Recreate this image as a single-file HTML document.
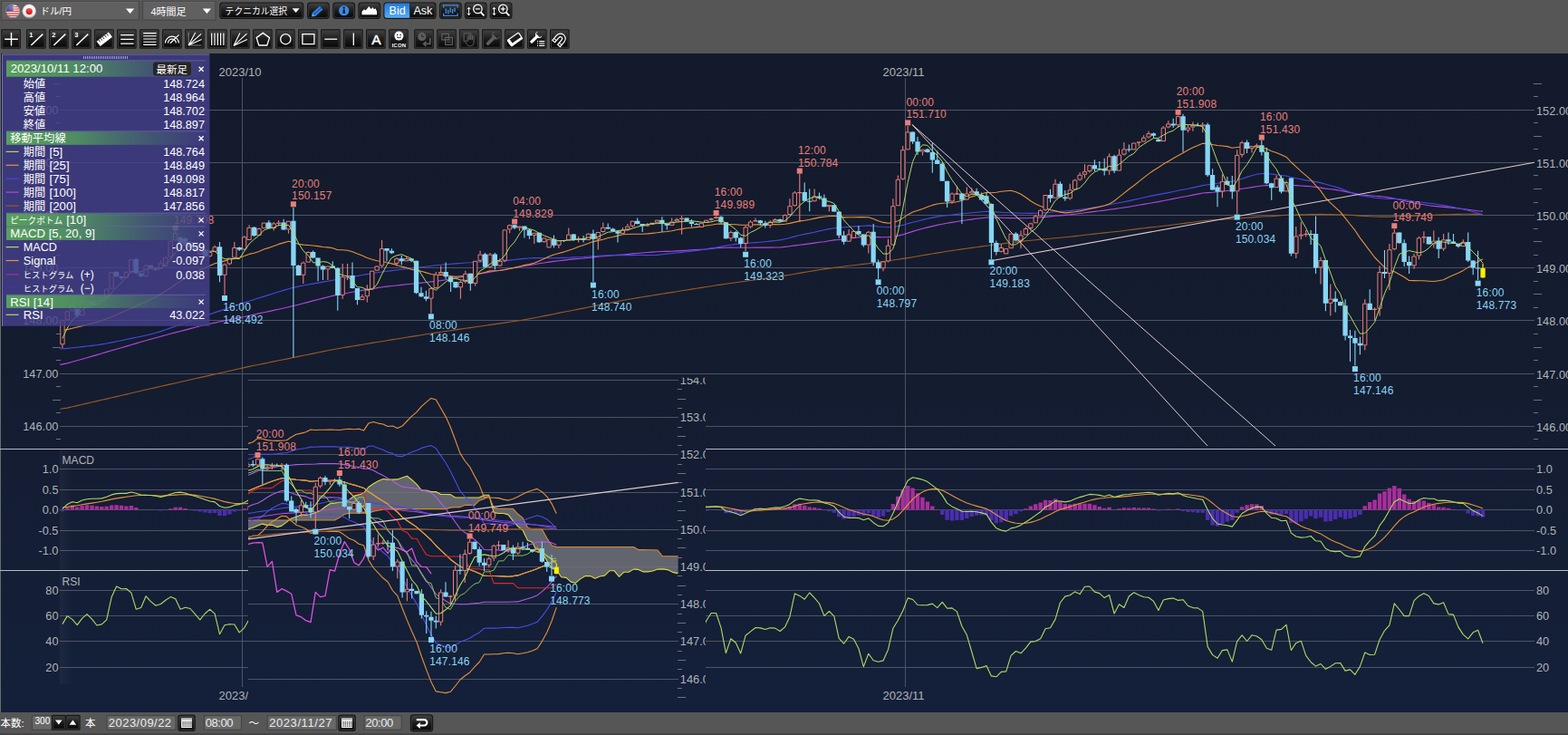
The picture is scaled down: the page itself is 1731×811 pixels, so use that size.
<!DOCTYPE html>
<html><head><meta charset="utf-8"><title>chart</title>
<style>html,body{margin:0;padding:0;background:#565656;overflow:hidden}body{width:1731px;height:811px;font-family:"Liberation Sans",sans-serif}svg{display:block;position:absolute;left:0;top:0}</style></head>
<body>
<svg width="1731" height="811" viewBox="0 0 1731 811" font-family="Liberation Sans, sans-serif" shape-rendering="auto">
<defs>
<linearGradient id="btn" x1="0" y1="0" x2="0" y2="1"><stop offset="0" stop-color="#414141"/><stop offset="0.5" stop-color="#1c1c1c"/><stop offset="1" stop-color="#080808"/></linearGradient>
<linearGradient id="bid" x1="0" y1="0" x2="0" y2="1"><stop offset="0" stop-color="#2378dd"/><stop offset="1" stop-color="#58acf5"/></linearGradient>
<linearGradient id="hdr" x1="0" y1="0" x2="1" y2="0"><stop offset="0" stop-color="#5aa65a" stop-opacity="0.95"/><stop offset="0.35" stop-color="#529a5e" stop-opacity="0.85"/><stop offset="0.8" stop-color="#4c8a66" stop-opacity="0.25"/><stop offset="1" stop-color="#4c8a66" stop-opacity="0"/></linearGradient>
<linearGradient id="strip" x1="0" y1="0" x2="1" y2="0"><stop offset="0" stop-color="#fff" stop-opacity="0.04"/><stop offset="1" stop-color="#fff" stop-opacity="0"/></linearGradient>
<radialGradient id="gloss" cx="0.5" cy="0.2" r="0.8"><stop offset="0" stop-color="#fff" stop-opacity="0.35"/><stop offset="0.6" stop-color="#fff" stop-opacity="0"/><stop offset="1" stop-color="#000" stop-opacity="0.25"/></radialGradient>
<linearGradient id="bgg" gradientUnits="userSpaceOnUse" x1="0" y1="59" x2="0" y2="786"><stop offset="0" stop-color="#131a2b"/><stop offset="0.5" stop-color="#141c30"/><stop offset="1" stop-color="#14203a"/></linearGradient>
<clipPath id="cpMain"><rect x="66" y="60" width="1628" height="434"/></clipPath>
<clipPath id="cpOv"><rect x="274" y="416.8" width="505" height="368"/></clipPath>
<clipPath id="cpOvP"><rect x="274" y="416.5" width="474.6" height="368"/></clipPath>
</defs>
<rect x="0" y="0" width="1731" height="59.3" fill="#565656"/>
<rect x="0" y="786" width="1731" height="25" fill="#565656"/>
<rect x="0" y="809" width="1731" height="2" fill="#444"/>
<rect x="0" y="59" width="1.2" height="727" fill="#6a6a6a"/>
<rect x="1.5" y="1.8" width="152" height="20.4" fill="#606060" stroke="#484848" stroke-width="1.2"/>
<path d="M2.5 2.6h150" stroke="#6e6e6e" stroke-width="0.8"/>
<rect x="157.5" y="1.8" width="80.5" height="20.4" fill="#606060" stroke="#484848" stroke-width="1.2"/>
<path d="M158.5 2.6h78.5" stroke="#6e6e6e" stroke-width="0.8"/>
<g><clipPath id="usf"><circle cx="14.3" cy="12.3" r="7.6"/></clipPath><g clip-path="url(#usf)">
<rect x="6" y="4" width="17" height="17" fill="#f4f4f4"/>
<rect x="6" y="4.6" width="17" height="1.25" fill="#d83a3a"/>
<rect x="6" y="7" width="17" height="1.25" fill="#d83a3a"/>
<rect x="6" y="9.4" width="17" height="1.25" fill="#d83a3a"/>
<rect x="6" y="11.8" width="17" height="1.25" fill="#d83a3a"/>
<rect x="6" y="14.2" width="17" height="1.25" fill="#d83a3a"/>
<rect x="6" y="16.6" width="17" height="1.25" fill="#d83a3a"/>
<rect x="6" y="19" width="17" height="1.25" fill="#d83a3a"/>
<rect x="6" y="4" width="8.6" height="8.4" fill="#3c4f9e"/></g>
<circle cx="14.3" cy="12.3" r="7.6" fill="url(#gloss)" stroke="#8a8a8a" stroke-width="0.6"/></g>
<circle cx="32.2" cy="12.3" r="7.6" fill="#f2f2f2" stroke="#8a8a8a" stroke-width="0.6"/><circle cx="32.2" cy="12.6" r="3.6" fill="#e01818"/><circle cx="32.2" cy="12.3" r="7.6" fill="url(#gloss)"/>
<text x="44.6" y="16.2" font-size="10.5" fill="#fff" text-anchor="start" font-family="'Liberation Sans', 'Noto Sans CJK JP', sans-serif">ドル/円</text>
<path d="M139 9.6h9.2l-4.6 5.4z" fill="#fff"/>
<text x="166.5" y="16.5" font-size="11" fill="#fff" text-anchor="start" font-family="'Liberation Sans', 'Noto Sans CJK JP', sans-serif">4時間足</text>
<path d="M223.8 9.6h9.2l-4.6 5.4z" fill="#fff"/>
<rect x="242.2" y="2.4" width="93.2" height="18.5" rx="3.5" fill="#151515"/>
<rect x="243.7" y="3.9" width="90.2" height="15.5" rx="2.2" fill="url(#btn)" stroke="#3b3b3b" stroke-width="0.9"/>
<text x="248.6" y="16.4" font-size="9.8" fill="#fff" text-anchor="start" font-family="'Liberation Sans', 'Noto Sans CJK JP', sans-serif">テクニカル選択</text>
<path d="M322.6 9.2h8l-4 4.8z" fill="#fff"/>
<rect x="339" y="2.4" width="24.8" height="18.5" rx="3.5" fill="#151515"/>
<rect x="340.5" y="3.9" width="21.8" height="15.5" rx="2.2" fill="url(#btn)" stroke="#3b3b3b" stroke-width="0.9"/>
<rect x="367.3" y="2.4" width="24.8" height="18.5" rx="3.5" fill="#151515"/>
<rect x="368.8" y="3.9" width="21.8" height="15.5" rx="2.2" fill="url(#btn)" stroke="#3b3b3b" stroke-width="0.9"/>
<rect x="395.4" y="2.4" width="24.8" height="18.5" rx="3.5" fill="#151515"/>
<rect x="396.9" y="3.9" width="21.8" height="15.5" rx="2.2" fill="url(#btn)" stroke="#3b3b3b" stroke-width="0.9"/>
<g transform="translate(351.4 11.6) rotate(-42)"><rect x="-6.5" y="-2.6" width="11" height="5.2" fill="#2f7fe0"/><path d="M-6.5 -2.6l-3.6 2.6 3.6 2.6z" fill="#5aa0f0"/><path d="M-6.5 0h11" stroke="#174f9e" stroke-width="1"/></g>
<circle cx="379.7" cy="11.7" r="5.6" fill="#3a8ae6"/><circle cx="379.7" cy="8.6" r="1.2" fill="#0a1a30"/><rect x="378.6" y="10.4" width="2.3" height="4.6" fill="#0a1a30"/>
<path d="M399.5 16.2v-3.4l2.6-2.6 1.6 1.4 3.6-4.6 2.4 3 1.8-2 1.4 2.2 1.6-1 1.6 3.4v3.6z" fill="#fff"/>
<rect x="423.4" y="2.4" width="58.2" height="18.5" rx="3.5" fill="#151515"/>
<rect x="424.9" y="3.9" width="55.2" height="15.5" rx="2.2" fill="url(#btn)" stroke="#3b3b3b" stroke-width="0.9"/>
<path d="M427 3.5h25.6v16.3h-25.6a2.5 2.5 0 0 1 -2.5-2.5v-11.3a2.5 2.5 0 0 1 2.5-2.5z" fill="url(#bid)"/>
<path d="M452.6 3.5v16.3" stroke="#1c1c1c" stroke-width="0.8"/>
<text x="429.6" y="16.4" font-size="12.6" fill="#fff" text-anchor="start" >Bid</text>
<text x="456.4" y="16.4" font-size="12.6" fill="#fff" text-anchor="start" >Ask</text>
<rect x="485" y="2.4" width="24.8" height="18.5" rx="3.5" fill="#151515"/>
<rect x="486.5" y="3.9" width="21.8" height="15.5" rx="2.2" fill="url(#btn)" stroke="#3b3b3b" stroke-width="0.9"/>
<rect x="512.8" y="2.4" width="24.8" height="18.5" rx="3.5" fill="#151515"/>
<rect x="514.3" y="3.9" width="21.8" height="15.5" rx="2.2" fill="url(#btn)" stroke="#3b3b3b" stroke-width="0.9"/>
<rect x="540.7" y="2.4" width="24.8" height="18.5" rx="3.5" fill="#151515"/>
<rect x="542.2" y="3.9" width="21.8" height="15.5" rx="2.2" fill="url(#btn)" stroke="#3b3b3b" stroke-width="0.9"/>
<path d="M489.6 8.5v-2.6h15.6v2.6M489.6 14.6v2.8h15.6v-2.8" stroke="#3a8ae6" stroke-width="1.3" fill="none"/>
<path d="M492.4 9.5v5.4M494.8 11v4.6M497.2 8.4v5.4M499.6 10v5M502 8.6v4.4" stroke="#3a8ae6" stroke-width="1.4"/>
<path d="M517.6 8.4v8m-1.7-6.2l1.7-2 1.7 2m-3.4 4.4l1.7 2 1.7-2" stroke="#fff" stroke-width="1" fill="none"/>
<circle cx="527.4" cy="9.9" r="4.7" fill="none" stroke="#fff" stroke-width="1.3"/>
<path d="M530.6 13.4l3.8 4" stroke="#fff" stroke-width="1.9"/>
<path d="M524.9 9.9h5" stroke="#fff" stroke-width="1.2"/>
<path d="M545.5 8.4v8m-1.7-6.2l1.7-2 1.7 2m-3.4 4.4l1.7 2 1.7-2" stroke="#fff" stroke-width="1" fill="none"/>
<circle cx="555.3" cy="9.9" r="4.7" fill="none" stroke="#fff" stroke-width="1.3"/>
<path d="M558.5 13.4l3.8 4" stroke="#fff" stroke-width="1.9"/>
<path d="M552.8 9.9h5" stroke="#fff" stroke-width="1.2"/>
<path d="M555.3 7.4v5" stroke="#fff" stroke-width="1.2"/>
<rect x="1.3" y="32.3" width="21.6" height="21.4" rx="1.3" fill="#151515"/>
<rect x="2.8" y="33.8" width="18.6" height="18.4" rx="0.0" fill="url(#btn)" stroke="#3b3b3b" stroke-width="0.9"/>
<rect x="29.1" y="32.3" width="21.6" height="21.4" rx="1.3" fill="#151515"/>
<rect x="30.6" y="33.8" width="18.6" height="18.4" rx="0.0" fill="url(#btn)" stroke="#3b3b3b" stroke-width="0.9"/>
<rect x="54.1" y="32.3" width="21.6" height="21.4" rx="1.3" fill="#151515"/>
<rect x="55.6" y="33.8" width="18.6" height="18.4" rx="0.0" fill="url(#btn)" stroke="#3b3b3b" stroke-width="0.9"/>
<rect x="79.1" y="32.3" width="21.6" height="21.4" rx="1.3" fill="#151515"/>
<rect x="80.6" y="33.8" width="18.6" height="18.4" rx="0.0" fill="url(#btn)" stroke="#3b3b3b" stroke-width="0.9"/>
<rect x="104.1" y="32.3" width="21.6" height="21.4" rx="1.3" fill="#151515"/>
<rect x="105.6" y="33.8" width="18.6" height="18.4" rx="0.0" fill="url(#btn)" stroke="#3b3b3b" stroke-width="0.9"/>
<rect x="129.1" y="32.3" width="21.6" height="21.4" rx="1.3" fill="#151515"/>
<rect x="130.6" y="33.8" width="18.6" height="18.4" rx="0.0" fill="url(#btn)" stroke="#3b3b3b" stroke-width="0.9"/>
<rect x="154.1" y="32.3" width="21.6" height="21.4" rx="1.3" fill="#151515"/>
<rect x="155.6" y="33.8" width="18.6" height="18.4" rx="0.0" fill="url(#btn)" stroke="#3b3b3b" stroke-width="0.9"/>
<rect x="179.1" y="32.3" width="21.6" height="21.4" rx="1.3" fill="#151515"/>
<rect x="180.6" y="33.8" width="18.6" height="18.4" rx="0.0" fill="url(#btn)" stroke="#3b3b3b" stroke-width="0.9"/>
<rect x="204.1" y="32.3" width="21.6" height="21.4" rx="1.3" fill="#151515"/>
<rect x="205.6" y="33.8" width="18.6" height="18.4" rx="0.0" fill="url(#btn)" stroke="#3b3b3b" stroke-width="0.9"/>
<rect x="229.1" y="32.3" width="21.6" height="21.4" rx="1.3" fill="#151515"/>
<rect x="230.6" y="33.8" width="18.6" height="18.4" rx="0.0" fill="url(#btn)" stroke="#3b3b3b" stroke-width="0.9"/>
<rect x="254.1" y="32.3" width="21.6" height="21.4" rx="1.3" fill="#151515"/>
<rect x="255.6" y="33.8" width="18.6" height="18.4" rx="0.0" fill="url(#btn)" stroke="#3b3b3b" stroke-width="0.9"/>
<rect x="279.1" y="32.3" width="21.6" height="21.4" rx="1.3" fill="#151515"/>
<rect x="280.6" y="33.8" width="18.6" height="18.4" rx="0.0" fill="url(#btn)" stroke="#3b3b3b" stroke-width="0.9"/>
<rect x="304.1" y="32.3" width="21.6" height="21.4" rx="1.3" fill="#151515"/>
<rect x="305.6" y="33.8" width="18.6" height="18.4" rx="0.0" fill="url(#btn)" stroke="#3b3b3b" stroke-width="0.9"/>
<rect x="329.1" y="32.3" width="21.6" height="21.4" rx="1.3" fill="#151515"/>
<rect x="330.6" y="33.8" width="18.6" height="18.4" rx="0.0" fill="url(#btn)" stroke="#3b3b3b" stroke-width="0.9"/>
<rect x="354.1" y="32.3" width="21.6" height="21.4" rx="1.3" fill="#151515"/>
<rect x="355.6" y="33.8" width="18.6" height="18.4" rx="0.0" fill="url(#btn)" stroke="#3b3b3b" stroke-width="0.9"/>
<rect x="379.1" y="32.3" width="21.6" height="21.4" rx="1.3" fill="#151515"/>
<rect x="380.6" y="33.8" width="18.6" height="18.4" rx="0.0" fill="url(#btn)" stroke="#3b3b3b" stroke-width="0.9"/>
<rect x="404.1" y="32.3" width="21.6" height="21.4" rx="1.3" fill="#151515"/>
<rect x="405.6" y="33.8" width="18.6" height="18.4" rx="0.0" fill="url(#btn)" stroke="#3b3b3b" stroke-width="0.9"/>
<rect x="429.1" y="32.3" width="21.6" height="21.4" rx="1.3" fill="#151515"/>
<rect x="430.6" y="33.8" width="18.6" height="18.4" rx="0.0" fill="url(#btn)" stroke="#3b3b3b" stroke-width="0.9"/>
<rect x="457.2" y="32.3" width="21.6" height="21.4" rx="1.3" fill="#151515"/>
<rect x="458.7" y="33.8" width="18.6" height="18.4" rx="0.0" fill="url(#btn)" stroke="#3b3b3b" stroke-width="0.9"/>
<rect x="482.2" y="32.3" width="21.6" height="21.4" rx="1.3" fill="#151515"/>
<rect x="483.7" y="33.8" width="18.6" height="18.4" rx="0.0" fill="url(#btn)" stroke="#3b3b3b" stroke-width="0.9"/>
<rect x="507.1" y="32.3" width="21.6" height="21.4" rx="1.3" fill="#151515"/>
<rect x="508.6" y="33.8" width="18.6" height="18.4" rx="0.0" fill="url(#btn)" stroke="#3b3b3b" stroke-width="0.9"/>
<rect x="532.1" y="32.3" width="21.6" height="21.4" rx="1.3" fill="#151515"/>
<rect x="533.6" y="33.8" width="18.6" height="18.4" rx="0.0" fill="url(#btn)" stroke="#3b3b3b" stroke-width="0.9"/>
<rect x="557.1" y="32.3" width="21.6" height="21.4" rx="1.3" fill="#151515"/>
<rect x="558.6" y="33.8" width="18.6" height="18.4" rx="0.0" fill="url(#btn)" stroke="#3b3b3b" stroke-width="0.9"/>
<rect x="582" y="32.3" width="21.6" height="21.4" rx="1.3" fill="#151515"/>
<rect x="583.5" y="33.8" width="18.6" height="18.4" rx="0.0" fill="url(#btn)" stroke="#3b3b3b" stroke-width="0.9"/>
<rect x="607" y="32.3" width="21.6" height="21.4" rx="1.3" fill="#151515"/>
<rect x="608.5" y="33.8" width="18.6" height="18.4" rx="0.0" fill="url(#btn)" stroke="#3b3b3b" stroke-width="0.9"/>
<path d="M12.5 36v14.4M5.2 43.2h14.6" stroke="#fff" stroke-width="1.4" fill="none"/>
<path d="M34.3 50l13-12.4" stroke="#fff" stroke-width="1.5" fill="none"/>
<text x="32.3" y="41.2" font-size="7.5" fill="#fff" text-anchor="start" font-weight="bold">1</text>
<path d="M59.3 50l13-12.4" stroke="#fff" stroke-width="1.5" fill="none"/>
<text x="57.3" y="41.2" font-size="7.5" fill="#fff" text-anchor="start" font-weight="bold">2</text>
<path d="M84.3 50l13-12.4" stroke="#fff" stroke-width="1.5" fill="none"/>
<text x="82.3" y="41.2" font-size="7.5" fill="#fff" text-anchor="start" font-weight="bold">3</text>
<g transform="translate(115.3 43.2) rotate(-38)"><rect x="-8.4" y="-3.3" width="16.8" height="6.6" fill="#fff"/><path d="M-5.6 -3.3v3M-2.8 -3.3v3M0 -3.3v3M2.8 -3.3v3M5.6 -3.3v3" stroke="#222" stroke-width="0.9"/></g>
<path d="M133.2 38.6h14.4M133.2 43.4h14.4M133.2 48.2h14.4" stroke="#fff" stroke-width="1.2" fill="none"/>
<path d="M158.2 36.6h14.4M158.2 39.8h14.4M158.2 43h14.4M158.2 46.2h14.4M158.2 49.4h14.4" stroke="#fff" stroke-width="1.1" fill="none"/>
<path d="M182.5 47.6a7.4 7.4 0 0 1 14.8 0M185.5 47.6a4.4 4.4 0 0 1 8.8 0M187.9 47.8l9.6-9.4" stroke="#fff" stroke-width="1.2" fill="none"/>
<path d="M208.1 36v14h14.4" stroke="#aaa" stroke-width="0.8" fill="none"/>
<path d="M208.1 50l7.6-14M208.1 50l14-12.6M208.1 50l14.4-6.4" stroke="#fff" stroke-width="1.1" fill="none"/>
<path d="M233.7 36.6v13.4M237 36.6v13.4M240.3 36.6v13.4M243.6 36.6v13.4M246.9 36.6v13.4" stroke="#fff" stroke-width="1.2" fill="none"/>
<path d="M257.9 50.6l7-14M257.9 50.6l14.6-13.4M257.9 50.6l15-7" stroke="#fff" stroke-width="1.1" fill="none"/>
<path d="M290.3 36.4l7.2 5.2-2.7 8.4h-9l-2.7-8.4z" stroke="#fff" stroke-width="1.3" fill="none"/>
<circle cx="315.3" cy="43.2" r="5.6" fill="none" stroke="#fff" stroke-width="1.3"/>
<path d="M333.9 37.6h13v11h-13z" stroke="#fff" stroke-width="1.3" fill="none"/>
<path d="M358.3 43.2h14" stroke="#fff" stroke-width="1.3" fill="none"/>
<path d="M390.3 36.4v13.6" stroke="#fff" stroke-width="1.3" fill="none"/>
<text x="415.4" y="49.2" font-size="15.5" fill="#fff" text-anchor="middle" stroke="#fff" stroke-width="0.45">A</text>
<circle cx="440.4" cy="39.6" r="5" fill="#fff"/><circle cx="438.7" cy="38.4" r="0.75" fill="#111"/><circle cx="442.1" cy="38.4" r="0.75" fill="#111"/><path d="M438 40.8q2.4 2.2 4.8 0" stroke="#111" stroke-width="0.9" fill="none"/>
<text x="440.4" y="51.6" font-size="6" fill="#fff" text-anchor="middle" font-weight="bold" letter-spacing="0.2">ICON</text>
<circle cx="465.8" cy="40.4" r="4.6" fill="#5e5e5e"/>
<path d="M465.8 37.6v3h2.6" stroke="#222" stroke-width="0.9" fill="none"/>
<path d="M474.8 42v6.4h-7m2.6-2.6l-2.8 2.6 2.8 2.6" stroke="#5e5e5e" stroke-width="1.6" fill="none"/>
<path d="M487.8 37.4h7.6v6.4h-7.6zM491.6 41.4h7.8v8h-7.8z" stroke="#5e5e5e" stroke-width="1.2" fill="none"/>
<path d="M493.2 44h4.6M493.2 46.4h4.6" stroke="#5e5e5e" stroke-width="0.9" fill="none"/>
<path d="M512.1 46.4v-9.6h8.4" stroke="#5e5e5e" stroke-width="1.0" fill="none"/>
<path d="M516.3 45.6v-5a0.85 0.85 0 0 1 1.7 0v3.4v-5.2a0.85 0.85 0 0 1 1.7 0v5v-4.6a0.85 0.85 0 0 1 1.7 0v4.8v-3.4a0.85 0.85 0 0 1 1.7 0v6.6q0 3.6-3.4 3.6h-1.4q-2 0-3.2-2.2l-1.9-3.4q0.9-1.1 1.9 0z" stroke="#5e5e5e" stroke-width="0.95" fill="none"/>
<g transform="translate(543.3 43.4) rotate(45)"><rect x="-1.9" y="-3" width="3.8" height="11.4" rx="1.2" fill="#5e5e5e"/><path d="M-3.6 -8.6a4.4 4.4 0 1 0 7.2 0v4h-7.2z" fill="#5e5e5e"/></g>
<g transform="translate(568.3 43.2) rotate(-35)"><rect x="-7.4" y="-3.6" width="14.8" height="6.4" rx="0.8" fill="#1c1c1c" stroke="#fff" stroke-width="1.2"/><rect x="-7.8" y="2.2" width="15.6" height="2.6" rx="0.8" fill="#fff"/><rect x="-7.8" y="-4" width="3" height="8.6" rx="0.8" fill="#fff"/></g>
<g transform="translate(591 42) rotate(45)"><rect x="-1.6" y="-2.4" width="3.2" height="9.6" rx="1" fill="#fff"/><path d="M-3 -7.4a3.7 3.7 0 1 0 6 0v3.4h-6z" fill="#fff"/></g>
<path d="M595.2 45.6h6M595.2 48h6M595.2 50.4h6" stroke="#fff" stroke-width="1.1" fill="none"/>
<path d="M593 45.6h1M593 48h1M593 50.4h1" stroke="#fff" stroke-width="1.1" fill="none"/>
<g transform="translate(618 43.4) rotate(40)"><path d="M-5.6 6v-7a5.6 5.6 0 0 1 11.2 0v7h-3.6v-7a2 2 0 0 0 -4 0v7z" fill="none" stroke="#fff" stroke-width="1.2"/><path d="M-5.6 3.4h3.6M2 3.4h3.6" stroke="#fff" stroke-width="1"/></g>
<rect x="1" y="59" width="1730" height="727" fill="url(#bgg)"/>
<g shape-rendering="crispEdges">
<line x1="66" x2="1694" y1="470.5" y2="470.5" stroke="#4d5365" stroke-width="1"/>
<line x1="66" x2="1694" y1="412.5" y2="412.5" stroke="#4d5365" stroke-width="1"/>
<line x1="66" x2="1694" y1="353.5" y2="353.5" stroke="#4d5365" stroke-width="1"/>
<line x1="66" x2="1694" y1="295.5" y2="295.5" stroke="#4d5365" stroke-width="1"/>
<line x1="66" x2="1694" y1="237.5" y2="237.5" stroke="#4d5365" stroke-width="1"/>
<line x1="66" x2="1694" y1="179.5" y2="179.5" stroke="#4d5365" stroke-width="1"/>
<line x1="66" x2="1694" y1="121.5" y2="121.5" stroke="#4d5365" stroke-width="1"/>
<line x1="62" x2="67" y1="484.5" y2="484.5" stroke="#6a707e"/>
<line x1="1693" x2="1697.5" y1="484.5" y2="484.5" stroke="#6a707e"/>
<line x1="62" x2="67" y1="455.5" y2="455.5" stroke="#6a707e"/>
<line x1="1693" x2="1697.5" y1="455.5" y2="455.5" stroke="#6a707e"/>
<line x1="58" x2="67" y1="441.5" y2="441.5" stroke="#6a707e"/>
<line x1="1693" x2="1701.5" y1="441.5" y2="441.5" stroke="#6a707e"/>
<line x1="62" x2="67" y1="426.5" y2="426.5" stroke="#6a707e"/>
<line x1="1693" x2="1697.5" y1="426.5" y2="426.5" stroke="#6a707e"/>
<line x1="62" x2="67" y1="397.5" y2="397.5" stroke="#6a707e"/>
<line x1="1693" x2="1697.5" y1="397.5" y2="397.5" stroke="#6a707e"/>
<line x1="58" x2="67" y1="383.5" y2="383.5" stroke="#6a707e"/>
<line x1="1693" x2="1701.5" y1="383.5" y2="383.5" stroke="#6a707e"/>
<line x1="62" x2="67" y1="368.5" y2="368.5" stroke="#6a707e"/>
<line x1="1693" x2="1697.5" y1="368.5" y2="368.5" stroke="#6a707e"/>
<line x1="62" x2="67" y1="339.5" y2="339.5" stroke="#6a707e"/>
<line x1="1693" x2="1697.5" y1="339.5" y2="339.5" stroke="#6a707e"/>
<line x1="58" x2="67" y1="324.5" y2="324.5" stroke="#6a707e"/>
<line x1="1693" x2="1701.5" y1="324.5" y2="324.5" stroke="#6a707e"/>
<line x1="62" x2="67" y1="310.5" y2="310.5" stroke="#6a707e"/>
<line x1="1693" x2="1697.5" y1="310.5" y2="310.5" stroke="#6a707e"/>
<line x1="62" x2="67" y1="281.5" y2="281.5" stroke="#6a707e"/>
<line x1="1693" x2="1697.5" y1="281.5" y2="281.5" stroke="#6a707e"/>
<line x1="58" x2="67" y1="266.5" y2="266.5" stroke="#6a707e"/>
<line x1="1693" x2="1701.5" y1="266.5" y2="266.5" stroke="#6a707e"/>
<line x1="62" x2="67" y1="252.5" y2="252.5" stroke="#6a707e"/>
<line x1="1693" x2="1697.5" y1="252.5" y2="252.5" stroke="#6a707e"/>
<line x1="62" x2="67" y1="223.5" y2="223.5" stroke="#6a707e"/>
<line x1="1693" x2="1697.5" y1="223.5" y2="223.5" stroke="#6a707e"/>
<line x1="58" x2="67" y1="208.5" y2="208.5" stroke="#6a707e"/>
<line x1="1693" x2="1701.5" y1="208.5" y2="208.5" stroke="#6a707e"/>
<line x1="62" x2="67" y1="193.5" y2="193.5" stroke="#6a707e"/>
<line x1="1693" x2="1697.5" y1="193.5" y2="193.5" stroke="#6a707e"/>
<line x1="62" x2="67" y1="164.5" y2="164.5" stroke="#6a707e"/>
<line x1="1693" x2="1697.5" y1="164.5" y2="164.5" stroke="#6a707e"/>
<line x1="58" x2="67" y1="150.5" y2="150.5" stroke="#6a707e"/>
<line x1="1693" x2="1701.5" y1="150.5" y2="150.5" stroke="#6a707e"/>
<line x1="62" x2="67" y1="135.5" y2="135.5" stroke="#6a707e"/>
<line x1="1693" x2="1697.5" y1="135.5" y2="135.5" stroke="#6a707e"/>
<line x1="62" x2="67" y1="106.5" y2="106.5" stroke="#6a707e"/>
<line x1="1693" x2="1697.5" y1="106.5" y2="106.5" stroke="#6a707e"/>
<line x1="58" x2="67" y1="92.5" y2="92.5" stroke="#6a707e"/>
<line x1="1693" x2="1701.5" y1="92.5" y2="92.5" stroke="#6a707e"/>
<line x1="267.5" x2="267.5" y1="86" y2="758" stroke="#4d5365"/>
<line x1="999.5" x2="999.5" y1="86" y2="758" stroke="#4d5365"/>
</g>
<text x="241.5" y="83.9" font-size="13" fill="#b0b3b8" text-anchor="start" >2023/10</text>
<text x="241.5" y="771.5" font-size="13" fill="#b0b3b8" text-anchor="start" >2023/10</text>
<text x="974.5" y="83.9" font-size="13" fill="#b0b3b8" text-anchor="start" >2023/11</text>
<text x="974.5" y="771.5" font-size="13" fill="#b0b3b8" text-anchor="start" >2023/11</text>
<text x="1696" y="476" font-size="12.8" fill="#b0b3b8" text-anchor="start" >146.00</text>
<text x="64.4" y="475" font-size="12.8" fill="#b0b3b8" text-anchor="end" >146.00</text>
<text x="1696" y="418" font-size="12.8" fill="#b0b3b8" text-anchor="start" >147.00</text>
<text x="64.4" y="417" font-size="12.8" fill="#b0b3b8" text-anchor="end" >147.00</text>
<text x="1696" y="359" font-size="12.8" fill="#b0b3b8" text-anchor="start" >148.00</text>
<text x="64.4" y="358" font-size="12.8" fill="#b0b3b8" text-anchor="end" >148.00</text>
<text x="1696" y="301" font-size="12.8" fill="#b0b3b8" text-anchor="start" >149.00</text>
<text x="64.4" y="300" font-size="12.8" fill="#b0b3b8" text-anchor="end" >149.00</text>
<text x="1696" y="243" font-size="12.8" fill="#b0b3b8" text-anchor="start" >150.00</text>
<text x="64.4" y="242" font-size="12.8" fill="#b0b3b8" text-anchor="end" >150.00</text>
<text x="1696" y="185" font-size="12.8" fill="#b0b3b8" text-anchor="start" >151.00</text>
<text x="64.4" y="184" font-size="12.8" fill="#b0b3b8" text-anchor="end" >151.00</text>
<text x="1696" y="127" font-size="12.8" fill="#b0b3b8" text-anchor="start" >152.00</text>
<text x="64.4" y="126" font-size="12.8" fill="#b0b3b8" text-anchor="end" >152.00</text>
<path d="M66.3 451.3 L74.3 450.1 L79.8 448.8 L85.2 447.6 L90.6 446.3 L96 445.1 L101.5 443.8 L106.9 442.6 L112.3 441.3 L117.7 440.1 L123.2 438.8 L128.6 437.6 L134 436.3 L139.4 435.1 L144.9 433.8 L150.3 432.5 L155.7 431.3 L161.1 430 L166.6 428.8 L172 427.6 L177.4 426.3 L182.8 425.1 L188.3 423.9 L193.7 422.7 L199.1 421.5 L204.6 420.2 L210 419 L215.4 417.8 L220.8 416.6 L226.3 415.4 L231.7 414.1 L237.1 412.9 L242.5 411.7 L248 410.5 L253.4 409.3 L258.8 408 L264.2 406.8 L269.7 405.6 L275.1 404.4 L280.5 403.3 L285.9 402.2 L291.4 401.1 L296.8 400 L302.2 398.9 L307.6 397.8 L313.1 396.7 L318.5 395.6 L323.9 394.5 L329.3 393.4 L334.8 392.3 L340.2 391.2 L345.6 390.1 L351.1 389 L356.5 387.9 L361.9 386.8 L367.3 385.7 L372.8 384.7 L378.2 383.8 L383.6 382.9 L389 382 L394.5 381.1 L399.9 380.2 L405.3 379.3 L410.7 378.4 L416.2 377.5 L421.6 376.7 L427 375.8 L432.4 374.9 L437.9 374 L443.3 373.2 L448.7 372.3 L454.1 371.4 L459.6 370.6 L465 369.7 L470.4 368.8 L475.9 368 L481.3 367.1 L486.7 366.3 L492.1 365.5 L497.6 364.7 L503 363.9 L508.4 363.1 L513.8 362.3 L519.3 361.6 L524.7 360.8 L530.1 360 L535.5 359.2 L541 358.4 L546.4 357.6 L551.8 356.9 L557.2 356.1 L562.7 355.3 L568.1 354.5 L573.5 353.7 L578.9 352.8 L584.4 351.8 L589.8 350.8 L595.2 349.7 L600.6 348.6 L606.1 347.6 L611.5 346.5 L616.9 345.4 L622.4 344.3 L627.8 343.3 L633.2 342.2 L638.6 341.1 L644.1 340.1 L649.5 339 L654.9 337.9 L660.3 336.8 L665.8 335.8 L671.2 334.7 L676.6 333.6 L682 332.6 L687.5 331.5 L692.9 330.5 L698.3 329.5 L703.7 328.6 L709.2 327.7 L714.6 326.9 L720 326 L725.4 325.1 L730.9 324.3 L736.3 323.4 L741.7 322.6 L747.1 321.7 L752.6 320.8 L758 320 L763.4 319.1 L768.9 318.2 L774.3 317.4 L779.7 316.5 L785.1 315.7 L790.6 314.8 L796 314.1 L801.4 313.3 L806.8 312.5 L812.3 311.8 L817.7 311 L823.1 310.3 L828.5 309.5 L834 308.7 L839.4 308 L844.8 307.2 L850.2 306.5 L855.7 305.7 L861.1 304.9 L866.5 304.1 L871.9 303.2 L877.4 302.3 L882.8 301.4 L888.2 300.4 L893.7 299.5 L899.1 298.6 L904.5 297.7 L909.9 296.9 L915.4 296.1 L920.8 295.4 L926.2 294.7 L931.6 294 L937.1 293.3 L942.5 292.7 L947.9 292 L953.3 291.4 L958.8 290.7 L964.2 290 L969.6 289.2 L975 288.5 L980.5 287.7 L985.9 287 L991.3 286.2 L996.7 285.4 L1002.2 284.6 L1007.6 283.7 L1013 282.8 L1018.5 281.8 L1023.9 280.9 L1029.3 280 L1034.7 279.1 L1040.2 278.2 L1045.6 277.3 L1051 276.5 L1056.4 275.7 L1061.9 274.9 L1067.3 274.2 L1072.7 273.4 L1078.1 272.7 L1083.6 271.9 L1089 271.2 L1094.4 270.5 L1099.8 269.8 L1105.3 269.1 L1110.7 268.4 L1116.1 267.8 L1121.5 267.1 L1127 266.4 L1132.4 265.8 L1137.8 265.2 L1143.2 264.7 L1148.7 264.1 L1154.1 263.7 L1159.5 263.2 L1165 262.7 L1170.4 262.2 L1175.8 261.7 L1181.2 261.2 L1186.7 260.6 L1192.1 260 L1197.5 259.3 L1202.9 258.7 L1208.4 258.1 L1213.8 257.5 L1219.2 256.9 L1224.6 256.3 L1230.1 255.8 L1235.5 255.2 L1240.9 254.5 L1246.3 253.8 L1251.8 253.1 L1257.2 252.4 L1262.6 251.7 L1268 251.1 L1273.5 250.5 L1278.9 250 L1284.3 249.3 L1289.8 248.7 L1295.2 248 L1300.6 247.3 L1306 246.6 L1311.5 245.9 L1316.9 245.2 L1322.3 244.5 L1327.7 243.7 L1333.2 243.2 L1338.6 242.8 L1344 242.5 L1349.4 242.1 L1354.9 241.8 L1360.3 241.7 L1365.7 241.2 L1371.1 240.7 L1376.6 240.3 L1382 239.9 L1387.4 239.4 L1392.8 239 L1398.3 238.8 L1403.7 238.6 L1409.1 238.1 L1414.5 237.7 L1420 237.2 L1425.4 237.2 L1430.8 237.1 L1436.3 236.9 L1441.7 236.7 L1447.1 236.6 L1452.5 236.6 L1458 236.4 L1463.4 236.5 L1468.8 236.6 L1474.2 236.7 L1479.7 236.7 L1485.1 237 L1490.5 237.2 L1495.9 237.6 L1501.4 238.1 L1506.8 238.4 L1512.2 238.7 L1517.6 239 L1523.1 239.1 L1528.5 239.1 L1533.9 239.1 L1539.3 238.9 L1544.8 238.7 L1550.2 238.5 L1555.6 238.3 L1561.1 238.1 L1566.5 237.9 L1571.9 237.7 L1577.3 237.5 L1582.8 237.3 L1588.2 237.1 L1593.6 236.9 L1599 236.7 L1604.5 236.5 L1609.9 236.4 L1615.3 236.3 L1620.7 236.3 L1626.2 236.4 L1631.6 236.4 L1637 236.5" fill="none" stroke="#9c5a20" stroke-width="1.1" stroke-linejoin="round" />
<path d="M66.3 402.4 L74.3 400.9 L79.8 399.3 L85.2 397.8 L90.6 396.2 L96 394.7 L101.5 393.1 L106.9 391.6 L112.3 390 L117.7 388.4 L123.2 386.8 L128.6 385.3 L134 383.7 L139.4 382.1 L144.9 380.5 L150.3 378.9 L155.7 377.3 L161.1 375.8 L166.6 374.2 L172 372.7 L177.4 371.2 L182.8 369.8 L188.3 368.3 L193.7 366.9 L199.1 365.5 L204.6 364.1 L210 362.6 L215.4 361.2 L220.8 359.8 L226.3 358.5 L231.7 357.3 L237.1 356.1 L242.5 355 L248 353.9 L253.4 352.8 L258.8 351.7 L264.2 350.6 L269.7 349.5 L275.1 348.3 L280.5 347.1 L285.9 345.9 L291.4 344.7 L296.8 343.6 L302.2 342.4 L307.6 341.2 L313.1 340 L318.5 338.8 L323.9 337.5 L329.3 336.2 L334.8 334.8 L340.2 333.4 L345.6 331.9 L351.1 330.5 L356.5 329.1 L361.9 327.7 L367.3 326.4 L372.8 325.3 L378.2 324.2 L383.6 323.2 L389 322.3 L394.5 321.3 L399.9 320.4 L405.3 319.4 L410.7 318.5 L416.2 317.6 L421.6 316.8 L427 316.1 L432.4 315.5 L437.9 315 L443.3 314.4 L448.7 313.8 L454.1 313.2 L459.6 312.7 L465 312.1 L470.4 311.5 L475.9 310.9 L481.3 310.3 L486.7 309.6 L492.1 308.7 L497.6 307.8 L503 306.8 L508.4 305.9 L513.8 304.9 L519.3 303.9 L524.7 303 L530.1 302 L535.5 301.1 L541 300.1 L546.4 299.2 L551.8 298.2 L557.2 297.2 L562.7 296.3 L568.1 295.3 L573.5 294.4 L578.9 293.5 L584.4 292.6 L589.8 291.7 L595.2 290.8 L600.6 290 L606.1 289.1 L611.5 288.4 L616.9 287.7 L622.4 287.1 L627.8 286.4 L633.2 285.9 L638.6 285.5 L644.1 285 L649.5 284.5 L654.9 283.9 L660.3 283.3 L665.8 282.8 L671.2 282.3 L676.6 281.8 L682 281.4 L687.5 281 L692.9 280.5 L698.3 279.9 L703.7 279.5 L709.2 279 L714.6 278.5 L720 278.1 L725.4 277.7 L730.9 277.5 L736.3 277.4 L741.7 277.2 L747.1 276.9 L752.6 276.6 L758 276.2 L763.4 275.9 L768.9 275.6 L774.3 275.3 L779.7 275 L785.1 274.4 L790.6 273.8 L796 273.4 L801.4 273.3 L806.8 273.1 L812.3 273.2 L817.7 273.3 L823.1 273.2 L828.5 273.2 L834 273.1 L839.4 273.1 L844.8 273.1 L850.2 273.1 L855.7 273 L861.1 273 L866.5 272.4 L871.9 271.7 L877.4 270.9 L882.8 270.2 L888.2 269.6 L893.7 268.9 L899.1 268.1 L904.5 267.3 L909.9 266.7 L915.4 265.7 L920.8 264.9 L926.2 264.5 L931.6 264 L937.1 263.3 L942.5 262.5 L947.9 261.9 L953.3 261.7 L958.8 261.3 L964.2 261.4 L969.6 261.6 L975 261.7 L980.5 261.6 L985.9 261 L991.3 260.1 L996.7 258.9 L1002.2 257.1 L1007.6 255.4 L1013 253.7 L1018.5 252.2 L1023.9 250.9 L1029.3 249.6 L1034.7 248.4 L1040.2 247.3 L1045.6 246.3 L1051 245.4 L1056.4 244.5 L1061.9 243.5 L1067.3 242.8 L1072.7 242.1 L1078.1 241.3 L1083.6 240.7 L1089 240 L1094.4 239.8 L1099.8 240.1 L1105.3 240.3 L1110.7 240.5 L1116.1 240.6 L1121.5 240.7 L1127 240.7 L1132.4 240.7 L1137.8 240.5 L1143.2 240.2 L1148.7 239.9 L1154.1 239.4 L1159.5 238.9 L1165 238.3 L1170.4 237.9 L1175.8 237.4 L1181.2 236.9 L1186.7 236.2 L1192.1 235.5 L1197.5 234.8 L1202.9 234.1 L1208.4 233.4 L1213.8 232.8 L1219.2 232.1 L1224.6 231.2 L1230.1 230.6 L1235.5 229.8 L1240.9 229 L1246.3 228.2 L1251.8 227.3 L1257.2 226.3 L1262.6 225.4 L1268 224.5 L1273.5 223.5 L1278.9 222.6 L1284.3 221.5 L1289.8 220.5 L1295.2 219.4 L1300.6 218.3 L1306 217.2 L1311.5 216.2 L1316.9 215.1 L1322.3 214.1 L1327.7 213 L1333.2 212.6 L1338.6 212.2 L1344 211.7 L1349.4 211.1 L1354.9 210.5 L1360.3 210 L1365.7 209.2 L1371.1 208.3 L1376.6 207.5 L1382 206.6 L1387.4 205.8 L1392.8 205 L1398.3 204.6 L1403.7 204.2 L1409.1 203.8 L1414.5 203.7 L1420 203.5 L1425.4 204.2 L1430.8 204.6 L1436.3 205 L1441.7 205.4 L1447.1 205.8 L1452.5 206.5 L1458 207.1 L1463.4 208.1 L1468.8 208.8 L1474.2 209.4 L1479.7 210.2 L1485.1 211.4 L1490.5 212.5 L1495.9 213.6 L1501.4 214.9 L1506.8 215.3 L1512.2 215.8 L1517.6 216.3 L1523.1 216.6 L1528.5 217.3 L1533.9 218.1 L1539.3 219 L1544.8 220.3 L1550.2 221.6 L1555.6 222.8 L1561.1 224 L1566.5 225 L1571.9 225.8 L1577.3 226.7 L1582.8 227.4 L1588.2 227.9 L1593.6 228.4 L1599 228.9 L1604.5 229.4 L1609.9 230 L1615.3 230.5 L1620.7 231.3 L1626.2 232 L1631.6 232.7 L1637 233.1" fill="none" stroke="#b048e0" stroke-width="1.15" stroke-linejoin="round" />
<path d="M66.3 385 L74.3 384.4 L79.8 383.8 L85.2 383.2 L90.6 382.6 L96 382 L101.5 381.4 L106.9 380.7 L112.3 379.9 L117.7 379 L123.2 377.9 L128.6 376.8 L134 375.7 L139.4 374.5 L144.9 373.4 L150.3 372.3 L155.7 371.2 L161.1 370 L166.6 368.7 L172 367.3 L177.4 365.6 L182.8 363.8 L188.3 361.9 L193.7 360 L199.1 358.1 L204.6 356.2 L210 354.4 L215.4 352.5 L220.8 350.6 L226.3 348.7 L231.7 346.8 L237.1 344.9 L242.5 343.1 L248 341.2 L253.4 339.4 L258.8 337.5 L264.2 335.7 L269.7 333.9 L275.1 332.2 L280.5 330.5 L285.9 328.8 L291.4 327.1 L296.8 325.4 L302.2 323.7 L307.6 322 L313.1 320.4 L318.5 318.8 L323.9 317.3 L329.3 316.1 L334.8 315 L340.2 314 L345.6 313.1 L351.1 312.1 L356.5 311.1 L361.9 310.2 L367.3 309.2 L372.8 308.3 L378.2 307.3 L383.6 306.4 L389 305.4 L394.5 304.5 L399.9 303.5 L405.3 302.6 L410.7 301.7 L416.2 300.8 L421.6 300 L427 299.3 L432.4 298.6 L437.9 298 L443.3 297.3 L448.7 296.7 L454.1 296.1 L459.6 295.4 L465 294.8 L470.4 294.2 L475.9 293.5 L481.3 292.8 L486.7 292.2 L492.1 291.7 L497.6 291.2 L503 290.9 L508.4 290.5 L513.8 290 L519.3 289.8 L524.7 289.3 L530.1 289 L535.5 288.9 L541 288.6 L546.4 288.5 L551.8 288.5 L557.2 287.9 L562.7 287.1 L568.1 286.5 L573.5 285.9 L578.9 285.4 L584.4 285 L589.8 284.6 L595.2 284.6 L600.6 284.7 L606.1 284.6 L611.5 284.7 L616.9 284.6 L622.4 284.4 L627.8 284.2 L633.2 283.9 L638.6 283.7 L644.1 283.6 L649.5 283 L654.9 282.7 L660.3 282.3 L665.8 282 L671.2 281.7 L676.6 281.6 L682 281.7 L687.5 281.6 L692.9 281.6 L698.3 281.6 L703.7 281.5 L709.2 281.5 L714.6 281.6 L720 281.5 L725.4 281.4 L730.9 280.8 L736.3 280.1 L741.7 279.5 L747.1 279 L752.6 278.4 L758 277.8 L763.4 277.1 L768.9 276.5 L774.3 275.8 L779.7 274.7 L785.1 273.9 L790.6 273 L796 272 L801.4 271.1 L806.8 270.2 L812.3 269.4 L817.7 269 L823.1 268.4 L828.5 268 L834 267.6 L839.4 267.2 L844.8 266.7 L850.2 266.1 L855.7 265.5 L861.1 264.9 L866.5 263.8 L871.9 262.5 L877.4 260.9 L882.8 259.5 L888.2 258.4 L893.7 257.4 L899.1 256.2 L904.5 254.9 L909.9 253.8 L915.4 252.6 L920.8 251.7 L926.2 251 L931.6 250.7 L937.1 250.4 L942.5 249.9 L947.9 249.6 L953.3 249.3 L958.8 248.9 L964.2 249.3 L969.6 250 L975 250.5 L980.5 250.8 L985.9 250.4 L991.3 249.6 L996.7 248.4 L1002.2 246.7 L1007.6 245.3 L1013 244 L1018.5 242.6 L1023.9 241.3 L1029.3 240.1 L1034.7 239.1 L1040.2 238.2 L1045.6 237.7 L1051 237 L1056.4 236.4 L1061.9 235.8 L1067.3 235.3 L1072.7 234.7 L1078.1 234.2 L1083.6 233.8 L1089 233.3 L1094.4 233.5 L1099.8 233.9 L1105.3 234.3 L1110.7 234.7 L1116.1 234.8 L1121.5 235 L1127 235.2 L1132.4 235.3 L1137.8 235.3 L1143.2 235.2 L1148.7 235 L1154.1 234.6 L1159.5 234.3 L1165 233.8 L1170.4 233.4 L1175.8 233 L1181.2 232.5 L1186.7 231.9 L1192.1 231.3 L1197.5 230.6 L1202.9 229.8 L1208.4 228.8 L1213.8 227.8 L1219.2 226.8 L1224.6 225.6 L1230.1 224.7 L1235.5 223.7 L1240.9 222.7 L1246.3 221.6 L1251.8 220.4 L1257.2 219.2 L1262.6 218 L1268 216.7 L1273.5 215.6 L1278.9 214.6 L1284.3 213.6 L1289.8 212.6 L1295.2 211.5 L1300.6 210.3 L1306 209.3 L1311.5 208.3 L1316.9 207.1 L1322.3 205.9 L1327.7 204.6 L1333.2 203.7 L1338.6 203 L1344 202.3 L1349.4 201.6 L1354.9 200.9 L1360.3 200.1 L1365.7 199 L1371.1 197.2 L1376.6 195.4 L1382 193.7 L1387.4 192.3 L1392.8 191.5 L1398.3 191.5 L1403.7 192.1 L1409.1 192.8 L1414.5 193.5 L1420 194 L1425.4 195.5 L1430.8 196.7 L1436.3 197.8 L1441.7 198.9 L1447.1 199.6 L1452.5 200.6 L1458 201.6 L1463.4 203.2 L1468.8 204.7 L1474.2 206.2 L1479.7 207.9 L1485.1 210 L1490.5 212 L1495.9 214.1 L1501.4 215.6 L1506.8 216.4 L1512.2 217.3 L1517.6 218.2 L1523.1 218.7 L1528.5 219.2 L1533.9 219.4 L1539.3 219.5 L1544.8 219.8 L1550.2 220.4 L1555.6 221.3 L1561.1 222.2 L1566.5 222.8 L1571.9 223.5 L1577.3 224.2 L1582.8 224.8 L1588.2 225.7 L1593.6 226.6 L1599 227.6 L1604.5 228.6 L1609.9 229.8 L1615.3 230.9 L1620.7 232.3 L1626.2 233.7 L1631.6 235.3 L1637 236.9" fill="none" stroke="#4848e0" stroke-width="1.15" stroke-linejoin="round" />
<path d="M66.3 365 L74.3 363.6 L79.8 362.3 L85.2 361 L90.6 359.6 L96 358.3 L101.5 356.9 L106.9 355.4 L112.3 353.7 L117.7 351.7 L123.2 349.5 L128.6 347.2 L134 344.8 L139.4 342.5 L144.9 340.2 L150.3 337.8 L155.7 335.3 L161.1 332.8 L166.6 330.2 L172 327.5 L177.4 324.6 L182.8 321.3 L188.3 317.7 L193.7 313.9 L199.1 310.1 L204.6 306.4 L210 303.1 L215.4 300.4 L220.8 297.7 L226.3 295.4 L231.7 293.2 L237.1 290.8 L242.5 289.4 L248 287.9 L253.4 286.5 L258.8 285.4 L264.2 284.2 L269.7 282.4 L275.1 280.4 L280.5 279.3 L285.9 277.4 L291.4 275 L296.8 273.4 L302.2 271.4 L307.6 269.4 L313.1 267.9 L318.5 266.3 L323.9 267.4 L329.3 269.3 L334.8 270.1 L340.2 270.5 L345.6 271 L351.1 271.6 L356.5 272.5 L361.9 272.9 L367.3 273.7 L372.8 275.8 L378.2 275.8 L383.6 276.3 L389 277.7 L394.5 280 L399.9 282.1 L405.3 284.4 L410.7 286.3 L416.2 287.7 L421.6 288.5 L427 289.8 L432.4 290.9 L437.9 292.4 L443.3 294.1 L448.7 295.4 L454.1 297.2 L459.6 298.4 L465 299.3 L470.4 300.9 L475.9 302.5 L481.3 303.2 L486.7 303.5 L492.1 303.8 L497.6 304.5 L503 305.4 L508.4 304.8 L513.8 304.6 L519.3 305 L524.7 303.8 L530.1 301.8 L535.5 300.5 L541 298.9 L546.4 298.7 L551.8 298.5 L557.2 297.7 L562.7 296.5 L568.1 295.4 L573.5 294 L578.9 292.6 L584.4 291.6 L589.8 290.3 L595.2 288.1 L600.6 285.5 L606.1 282.9 L611.5 281 L616.9 279.5 L622.4 278.1 L627.8 276.2 L633.2 274.4 L638.6 272.2 L644.1 270.4 L649.5 268.6 L654.9 266.6 L660.3 265.4 L665.8 264.2 L671.2 262.5 L676.6 261.5 L682 260.1 L687.5 258.7 L692.9 258.5 L698.3 258.3 L703.7 258.2 L709.2 258.2 L714.6 257.9 L720 257.4 L725.4 256.8 L730.9 256 L736.3 255.5 L741.7 254.7 L747.1 253.5 L752.6 252.6 L758 251.7 L763.4 251.3 L768.9 250.6 L774.3 249.9 L779.7 249 L785.1 248.3 L790.6 247.3 L796 246.9 L801.4 247.4 L806.8 247.5 L812.3 247.8 L817.7 248.3 L823.1 248.2 L828.5 248 L834 247.9 L839.4 247.9 L844.8 247.9 L850.2 247.7 L855.7 247.6 L861.1 247.7 L866.5 247.3 L871.9 246.4 L877.4 245.1 L882.8 243.9 L888.2 243.2 L893.7 242.3 L899.1 241.1 L904.5 239.9 L909.9 239.2 L915.4 238.5 L920.8 238.2 L926.2 239 L931.6 239.9 L937.1 239.7 L942.5 239.7 L947.9 239.5 L953.3 239.6 L958.8 239.8 L964.2 241.6 L969.6 243.7 L975 245.4 L980.5 246.3 L985.9 245.6 L991.3 243.8 L996.7 240.6 L1002.2 236.9 L1007.6 234.1 L1013 232.3 L1018.5 230.4 L1023.9 228.3 L1029.3 226.4 L1034.7 225 L1040.2 224.3 L1045.6 224 L1051 223.5 L1056.4 222.7 L1061.9 221.2 L1067.3 219 L1072.7 217.1 L1078.1 215.5 L1083.6 214 L1089 212.2 L1094.4 212.7 L1099.8 212.2 L1105.3 211.3 L1110.7 210.7 L1116.1 210.2 L1121.5 211.7 L1127 214.2 L1132.4 217.7 L1137.8 221.7 L1143.2 225 L1148.7 227.6 L1154.1 229.6 L1159.5 231.6 L1165 232.6 L1170.4 234.1 L1175.8 234.9 L1181.2 234.4 L1186.7 233.8 L1192.1 232.9 L1197.5 231.7 L1202.9 230.4 L1208.4 229.4 L1213.8 228.3 L1219.2 227 L1224.6 224.9 L1230.1 221.7 L1235.5 217.4 L1240.9 213.1 L1246.3 208.7 L1251.8 204.7 L1257.2 200.4 L1262.6 196.1 L1268 191.9 L1273.5 188 L1278.9 184.7 L1284.3 181.1 L1289.8 177.9 L1295.2 174.7 L1300.6 171.7 L1306 168.8 L1311.5 165.6 L1316.9 162.8 L1322.3 160.4 L1327.7 158.2 L1333.2 158.4 L1338.6 159.5 L1344 160.5 L1349.4 161 L1354.9 161.6 L1360.3 163.2 L1365.7 162.5 L1371.1 162 L1376.6 161.9 L1382 161.8 L1387.4 161.9 L1392.8 162.3 L1398.3 164.3 L1403.7 166.7 L1409.1 168.6 L1414.5 170.8 L1420 173.2 L1425.4 179 L1430.8 183.9 L1436.3 189.1 L1441.7 193.7 L1447.1 198.4 L1452.5 204.6 L1458 210.6 L1463.4 218.5 L1468.8 223.9 L1474.2 228.8 L1479.7 233.9 L1485.1 240.7 L1490.5 247.5 L1495.9 254.2 L1501.4 262.6 L1506.8 269.7 L1512.2 276.8 L1517.6 284 L1523.1 289.6 L1528.5 294.9 L1533.9 297.9 L1539.3 299.8 L1544.8 302.7 L1550.2 305.8 L1555.6 309.5 L1561.1 309.6 L1566.5 309.7 L1571.9 309.8 L1577.3 310.2 L1582.8 310.5 L1588.2 309.7 L1593.6 308.8 L1599 306.1 L1604.5 303.6 L1609.9 301.2 L1615.3 298.4 L1620.7 295.1 L1626.2 292 L1631.6 288.7 L1637 285.7" fill="none" stroke="#e8923a" stroke-width="1.1" stroke-linejoin="round" />
<g clip-path="url(#cpMain)">
<path d="M1094.4 287.8 L1694 179.3" fill="none" stroke="#e0cacc" stroke-width="1.1" stroke-linejoin="round" />
<path d="M1007 137.5 L1408 492" fill="none" stroke="#e0cacc" stroke-width="1.0" stroke-linejoin="round" />
<path d="M1007 137.5 L1333 492" fill="none" stroke="#e0cacc" stroke-width="1.0" stroke-linejoin="round" />
</g>
<path d="M1637 290.7V306.8" stroke="#ffee00" stroke-width="1.2"/>
<rect x="1634.4" y="295.9" width="5.3" height="10.4" fill="#ffee00"/>
<path d="M68.9 353.2V353.2M68.9 380.3V384M74.3 343.3V343.3M74.3 353.2V353.7M79.8 333.2V334.7M79.8 343.3V343.3M90.6 331.2V332.2M90.6 348.2V348.2M96 332.2V332.2M96 335.9V336.9M106.9 332.2V332.2M106.9 335.9V335.9M112.3 328.5V328.5M112.3 332.2V332.7M117.7 318.1V318.6M117.7 328.5V328.5M123.2 300.1V300.1M123.2 318.6V318.6M139.4 299.1V300.1M139.4 306.8V306.8M144.9 286.1V286.1M144.9 300.1V301.6M161.1 291.7V292.7M161.1 305.1V305.6M177.4 287.8V290.3M177.4 296.4V296.4M182.8 283.6V283.6M182.8 294V294.5M188.3 265.6V265.6M188.3 283.6V284.6M193.7 255V257M193.7 265.6V265.6M220.8 274.5V275.5M220.8 280.4V281.9M231.7 278V278M231.7 282.9V283.9M237.1 270.8V272.3M237.1 278V278M248 290.5V291.5M248 303.8V325.5M253.4 284.6V284.6M253.4 291.5V292.5M258.8 266.9V273M258.8 284.6V284.6M269.7 260.2V261.2M269.7 275.5V276M275.1 248.3V250.8M275.1 265.1V265.1M285.9 251.6V252.1M285.9 259.9V259.9M291.4 245.6V245.6M291.4 252.1V252.1M302.2 244.9V246.4M302.2 252.1V254.6M307.6 243.1V245.6M307.6 246.6V249.5M318.5 243.8V243.8M318.5 253.4V257.8M334.8 288.6V289.6M334.8 303.9V312.9M340.2 277.5V278M340.2 289.6V289.6M361.9 293.5V293.5M361.9 297.4V309M378.2 290.9V305.2M378.2 325.9V329.8M383.6 290.9V303.9M383.6 305.2V309M399.9 324.7V327.2M399.9 331V331M405.3 314.2V319.4M405.3 327.2V333.6M410.7 298.7V298.7M410.7 319.4V319.9M416.2 293V293.5M416.2 298.7V298.7M421.6 265.1V274.1M421.6 293.5V295M437.9 284.2V285.2M437.9 290.9V293.4M448.7 282.7V285.2M448.7 288.3V288.3M475.9 317.1V318.1M475.9 329.8V345.8M481.3 300.1V302.6M481.3 318.1V318.6M486.7 293.5V300M486.7 302.6V302.6M508.4 309.6V311.1M508.4 317.3V329.8M513.8 298.7V301.8M513.8 311.1V312.6M524.7 287.8V287.8M524.7 312.9V315.5M530.1 276.7V280.6M530.1 287.8V289.3M541 279.1V280.6M541 294.8V295.8M551.8 285.3V287.8M551.8 293.5V294M557.2 253.4V253.4M557.2 287.8V289.3M562.7 247.7V248.2M562.7 253.4V257.3M573.5 249.5V249.5M573.5 251.6V254.7M589.8 256.8V256.8M589.8 259.9V268.9M600.6 262.5V262.5M600.6 267.1V267.6M606.1 263.8V263.8M606.1 273.3V273.3M616.9 265.1V265.1M616.9 270.7V274.1M627.8 251.6V258.6M627.8 265.6V265.6M638.6 260.7V263.2M638.6 265.1V267.6M649.5 257.3V257.8M649.5 265.1V265.1M660.3 256V256M660.3 263.8V275.4M665.8 245.6V250.8M665.8 256V256.5M687.5 251V253.5M687.5 257.8V258.3M692.9 247.1V249.6M692.9 253.5V254.5M698.3 243.7V243.7M698.3 249.6V251.1M714.6 246.3V247.8M714.6 249.6V250.1M720 245.8V245.8M720 247.8V247.8M725.4 242.7V242.7M725.4 245.8V245.8M741.7 240.6V244.5M741.7 248.9V248.9M747.1 240.4V241.9M747.1 244.5V244.5M752.6 238V240.6M752.6 241.9V258.7M774.3 245.8V245.8M774.3 250.9V250.9M779.7 242.7V242.7M779.7 245.8V245.8M785.1 240.6V241.1M785.1 242.7V243.7M790.6 238.5V239.3M790.6 241.1V241.1M806.8 254.6V256.1M806.8 263.4V265.9M823.1 248.9V250.4M823.1 269V277.3M828.5 243V244.5M828.5 250.4V251.9M834 240.6V243.2M834 244.5V244.5M850.2 243.1V244.6M850.2 248.9V251.4M855.7 241V242M855.7 244.6V245.1M866.5 236.6V237.1M866.5 244.6V244.6M871.9 219.3V227.2M871.9 237.1V237.6M877.4 210.9V212.4M877.4 227.2V227.7M882.8 192.1V212M882.8 213V245M899.1 208.5V216.4M899.1 222.3V222.3M915.4 226.2V226.2M915.4 228.2V233.2M937.1 252.9V258.4M937.1 266.7V266.7M942.5 253.9V254.9M942.5 262.8V262.8M958.8 254.8V255.8M958.8 270.7V279.5M975 288.4V288.4M975 296.3V299.3M980.5 263.7V270.7M980.5 288.4V289.4M985.9 219.3V227.2M985.9 270.7V270.7M991.3 193.6V197.8M991.3 227.2V227.2M996.7 161V165.2M996.7 197.8V198.8M1002.2 138.9V145.4M1002.2 165.2V165.2M1018.5 164.7V164.7M1018.5 167.5V171.5M1051 212.4V213.4M1051 222.5V224.8M1056.4 204.9V213.4M1056.4 214.4V213.4M1067.3 206.4V213.4M1067.3 220.5V221M1072.7 207.2V211.2M1072.7 213.4V213.4M1105.3 269.3V273M1105.3 277.9V278.4M1110.7 274.2V274.2M1110.7 280.4V280.4M1116.1 257.7V257.7M1116.1 274.2V274.2M1127 254.5V259.4M1127 265.6V274.2M1132.4 250.5V252M1132.4 259.4V259.4M1137.8 245.8V246.3M1137.8 252V254.5M1143.2 236.9V238.4M1143.2 246.3V246.3M1148.7 230.8V231.8M1148.7 238.4V238.4M1154.1 215V215M1154.1 231.8V232.8M1165 197.7V202.7M1165 218.7V218.7M1181.2 202.7V209.3M1181.2 219.2V220.7M1186.7 197.5V198.5M1186.7 209.3V209.3M1192.1 190.3V192.8M1192.1 198.5V199.5M1197.5 181.2V189.1M1197.5 192.8V196.5M1202.9 182.2V182.2M1202.9 189.1V190.6M1224.6 169.3V172.3M1224.6 188.6V192.8M1235.5 164.4V170.6M1235.5 188.6V188.6M1240.9 157V164.4M1240.9 170.6V171.6M1251.8 157.5V157.5M1251.8 165.4V165.4M1257.2 156.5V156.5M1257.2 157.5V161.5M1262.6 149.2V151.7M1262.6 156.5V156.5M1268 144.8V147.2M1268 151.7V152.7M1284.3 139.1V140.6M1284.3 156.1V156.1M1289.8 133.2V136.4M1289.8 140.6V141.6M1300.6 127.3V128.2M1300.6 138.4V140.9M1311.5 138.1V140.6M1311.5 143.8V146.3M1316.9 134.4V138.1M1316.9 140.6V144.8M1327.7 134.9V137.4M1327.7 139.3V146.3M1349.4 192.4V199.8M1349.4 211.4V218.3M1365.7 165.3V170.9M1365.7 211.4V236.1M1371.1 155.6V157.1M1371.1 170.9V173.4M1382 161.1V161.1M1382 164V168.5M1387.4 158.6V160.3M1387.4 161.3V161.1M1409.1 193.6V196.6M1409.1 207.2V207.2M1420 199.5V201M1420 211.4V211.4M1430.8 250.1V260.5M1430.8 279.9V285.1M1436.3 244.9V258.7M1436.3 260.5V264.3M1441.7 254V257.9M1441.7 258.9V261.2M1458 283.8V287.1M1458 295.4V313.5M1468.8 313.5V329.6M1468.8 334.7V348.5M1506.8 330.3V334.7M1506.8 381.3V386.5M1517.6 339.2V340.7M1517.6 342V353.6M1523.1 293.3V300.1M1523.1 340.7V348.5M1533.9 269V275.2M1533.9 301.9V320M1539.3 252.7V256.6M1539.3 275.2V276.2M1561.1 280V282.5M1561.1 293.3V296.7M1566.5 260.8V262.3M1566.5 282.5V286.3M1571.9 255.3V261.2M1571.9 262.3V268.2M1582.8 254.5V265.6M1582.8 269.5V273.4M1593.6 257.9V264.3M1593.6 274.7V276.8M1615.3 264.3V266.9M1615.3 272.1V272.1" stroke="#e87f7a" stroke-width="1.1" fill="none"/>
<path d="M85.2 340.8V350.7M101.5 332.2V336.9M128.6 299.1V305.6M134 305.1V309.3M150.3 284.6V302.4M155.7 301.4V306.1M166.6 292.7V295.2M172 295.2V297.4M199.1 260.9V268.1M204.6 262.2V271.8M210 267.8V273M215.4 273V277.7M226.3 275.5V282.9M242.5 266.9V311.2M264.2 272.5V277M280.5 250.3V260.9M296.8 243.1V252.1M313.1 241.8V253.4M323.9 228.8V394.5M329.3 292V303.9M345.6 276.5V285M351.1 284.5V310.3M356.5 292.5V309M367.3 288.3V296.1M372.8 295.1V342.7M389 289.6V318.6M394.5 318.1V336.2M427 274.1V288.3M432.4 274.2V280.3M443.3 281.9V292.2M454.1 285.2V289.3M459.6 287.8V324.3M465 316.8V327.7M470.4 320.7V332.3M492.1 289.6V307.7M497.6 305.2V322M503 311.1V317.8M519.3 301.8V320.7M535.5 279.1V294.8M546.4 279.1V297.4M568.1 248V253.1M578.9 249.5V262.5M584.4 252.9V263.8M595.2 256.8V268.1M611.5 259.4V273.2M622.4 265.1V267.1M633.2 258.1V265.6M644.1 259.9V267.6M654.9 253.4V311.1M671.2 246.4V253.1M676.6 251.6V255.2M682 255.2V267.6M703.7 240.6V247.5M709.2 247V256.1M730.9 239.3V256.1M736.3 247V253.5M758 240.6V245M763.4 242V250.4M768.9 246V247.8M796 238.3V246.2M801.4 245.2V263.4M812.3 255.1V266.5M817.7 261.6V272.9M839.4 242.7V248.8M844.8 243.8V251.4M861.1 241.5V245.1M888.2 201.6V221.7M893.7 208.5V233.2M904.5 212.4V220.3M909.9 214.4V228.2M920.8 225.7V233.5M926.2 233.5V262.8M931.6 254.9V269.7M947.9 248.9V258.4M953.3 258.4V272.6M964.2 247V293.3M969.6 286.4V307.8M1007.6 145.4V158.7M1013 151V170.9M1023.9 163.7V168.6M1029.3 158.1V190.8M1034.7 166.6V180.8M1040.2 179.3V199.8M1045.6 199.8V229M1061.9 213.4V246.9M1078.1 207.8V214.9M1083.6 212.4V221M1089 212.5V225.4M1094.4 224.4V285.8M1099.8 265.6V281.6M1121.5 256.2V265.6M1159.5 208.8V223.6M1170.4 200.2V217.5M1175.8 210.1V221.7M1208.4 176.3V189.1M1213.8 178V186.6M1219.2 174.8V193.5M1230.1 170.8V191.1M1246.3 159.5V167.4M1273.5 146.2V152.2M1278.9 152.7V156.1M1295.2 130.7V140.9M1306 125.7V167.7M1322.3 135.6V139.3M1333.2 135.6V194.9M1338.6 186.2V209.7M1344 204V228.2M1354.9 194.9V204.5M1360.3 194.1V219.5M1376.6 154.6V169M1392.8 155.1V171.4M1398.3 162.8V203.3M1403.7 201.8V220.8M1414.5 193.6V213.4M1425.4 196.5V282.5M1447.1 254V270M1452.5 238.5V301.9M1463.4 287.1V343.3M1474.2 321.3V344.6M1479.7 332.4V337.3M1485.1 330.3V375.6M1490.5 364V398.9M1495.9 364.8V403.6M1501.4 371.7V391.2M1512.2 319.2V342M1528.5 276V307M1544.8 256.6V268.7M1550.2 264.3V294.1M1555.6 282.5V301.9M1577.3 261.2V269.5M1588.2 261.8V285.1M1599 256.6V270M1604.5 257.9V269M1609.9 269V273.4M1620.7 256.6V288.9M1626.2 287.6V303.2M1631.6 276.8V309.1" stroke="#86d6f5" stroke-width="1.1" fill="none"/>
<path d="M66.8 353.7h4.3v26.1h-4.3zM72.2 343.8h4.3v8.9h-4.3zM77.6 335.2h4.3v7.6h-4.3zM88.5 332.7h4.3v15h-4.3zM93.9 332.7h4.3v2.7h-4.3zM104.7 332.7h4.3v2.7h-4.3zM110.2 329h4.3v2.7h-4.3zM115.6 319.1h4.3v8.9h-4.3zM121 300.6h4.3v17.5h-4.3zM137.3 300.6h4.3v5.7h-4.3zM142.7 286.6h4.3v13.1h-4.3zM159 293.2h4.3v11.3h-4.3zM175.3 290.8h4.3v5.2h-4.3zM180.7 284.1h4.3v9.4h-4.3zM186.1 266.1h4.3v17h-4.3zM191.5 257.5h4.3v7.6h-4.3zM218.7 276h4.3v3.9h-4.3zM229.5 278.5h4.3v3.9h-4.3zM235 272.8h4.3v4.7h-4.3zM245.8 292h4.3v11.3h-4.3zM251.2 285.1h4.3v5.9h-4.3zM256.7 273.5h4.3v10.6h-4.3zM267.5 261.7h4.3v13.3h-4.3zM272.9 251.3h4.3v13.2h-4.3zM283.8 252.6h4.3v6.8h-4.3zM289.2 246.1h4.3v5.5h-4.3zM300.1 246.9h4.3v4.7h-4.3zM305.5 246.1h4.3v0.2h-4.3zM316.3 244.3h4.3v8.6h-4.3zM332.6 290.1h4.3v13.2h-4.3zM338.1 278.5h4.3v10.6h-4.3zM359.8 294h4.3v2.9h-4.3zM376 305.7h4.3v19.7h-4.3zM381.5 304.4h4.3v0.3h-4.3zM397.7 327.7h4.3v2.9h-4.3zM403.2 319.9h4.3v6.8h-4.3zM408.6 299.2h4.3v19.7h-4.3zM414 294h4.3v4.2h-4.3zM419.4 274.6h4.3v18.4h-4.3zM435.7 285.7h4.3v4.7h-4.3zM446.6 285.7h4.3v2.1h-4.3zM473.7 318.6h4.3v10.6h-4.3zM479.1 303.1h4.3v14.5h-4.3zM484.6 300.5h4.3v1.6h-4.3zM506.3 311.6h4.3v5.2h-4.3zM511.7 302.3h4.3v8.3h-4.3zM522.5 288.3h4.3v24.1h-4.3zM528 281.1h4.3v6.2h-4.3zM538.8 281.1h4.3v13.2h-4.3zM549.7 288.3h4.3v4.7h-4.3zM555.1 253.9h4.3v33.4h-4.3zM560.5 248.7h4.3v4.2h-4.3zM571.4 250h4.3v1.1h-4.3zM587.6 257.3h4.3v2.1h-4.3zM598.5 263h4.3v3.7h-4.3zM603.9 264.3h4.3v8.6h-4.3zM614.8 265.6h4.3v4.7h-4.3zM625.6 259.1h4.3v6h-4.3zM636.5 263.7h4.3v0.8h-4.3zM647.3 258.3h4.3v6.2h-4.3zM658.2 256.5h4.3v6.8h-4.3zM663.6 251.3h4.3v4.2h-4.3zM685.3 254h4.3v3.3h-4.3zM690.7 250.1h4.3v2.9h-4.3zM696.2 244.2h4.3v5h-4.3zM712.4 248.3h4.3v0.8h-4.3zM717.9 246.3h4.3v1.1h-4.3zM723.3 243.2h4.3v2.1h-4.3zM739.6 245h4.3v3.4h-4.3zM745 242.4h4.3v1.6h-4.3zM750.4 241.1h4.3v0.3h-4.3zM772.1 246.3h4.3v4.2h-4.3zM777.6 243.2h4.3v2.1h-4.3zM783 241.6h4.3v0.6h-4.3zM788.4 239.8h4.3v0.8h-4.3zM804.7 256.6h4.3v6.2h-4.3zM821 250.9h4.3v17.6h-4.3zM826.4 245h4.3v5h-4.3zM831.8 243.7h4.3v0.3h-4.3zM848.1 245.1h4.3v3.3h-4.3zM853.5 242.5h4.3v1.6h-4.3zM864.4 237.6h4.3v6.5h-4.3zM869.8 227.7h4.3v8.9h-4.3zM875.2 212.9h4.3v13.8h-4.3zM880.6 212.5h4.3v0.2h-4.3zM896.9 216.9h4.3v4.9h-4.3zM913.2 226.7h4.3v1h-4.3zM934.9 258.9h4.3v7.3h-4.3zM940.3 255.4h4.3v6.9h-4.3zM956.6 256.3h4.3v13.8h-4.3zM972.9 288.9h4.3v6.9h-4.3zM978.3 271.2h4.3v16.8h-4.3zM983.7 227.7h4.3v42.4h-4.3zM989.2 198.3h4.3v28.4h-4.3zM994.6 165.7h4.3v31.6h-4.3zM1000 145.9h4.3v18.9h-4.3zM1016.3 165.2h4.3v1.8h-4.3zM1048.9 213.9h4.3v8.1h-4.3zM1054.3 213.9h4.3v0.2h-4.3zM1065.1 213.9h4.3v6.1h-4.3zM1070.6 211.7h4.3v1.3h-4.3zM1103.1 273.5h4.3v3.9h-4.3zM1108.5 274.7h4.3v5.2h-4.3zM1114 258.2h4.3v15.5h-4.3zM1124.8 259.9h4.3v5.2h-4.3zM1130.2 252.5h4.3v6.4h-4.3zM1135.7 246.8h4.3v4.7h-4.3zM1141.1 238.9h4.3v6.9h-4.3zM1146.5 232.3h4.3v5.7h-4.3zM1152 215.5h4.3v15.8h-4.3zM1162.8 203.2h4.3v15h-4.3zM1179.1 209.8h4.3v8.9h-4.3zM1184.5 199h4.3v9.9h-4.3zM1189.9 193.3h4.3v4.7h-4.3zM1195.4 189.6h4.3v2.7h-4.3zM1200.8 182.7h4.3v5.9h-4.3zM1222.5 172.8h4.3v15.3h-4.3zM1233.3 171.1h4.3v17h-4.3zM1238.8 164.9h4.3v5.2h-4.3zM1249.6 158h4.3v6.9h-4.3zM1255 157h4.3v0.2h-4.3zM1260.5 152.2h4.3v3.8h-4.3zM1265.9 147.7h4.3v3.4h-4.3zM1282.2 141.1h4.3v14.5h-4.3zM1287.6 136.9h4.3v3.2h-4.3zM1298.5 128.7h4.3v9.1h-4.3zM1309.3 141.1h4.3v2.2h-4.3zM1314.7 138.6h4.3v1.5h-4.3zM1325.6 137.9h4.3v1h-4.3zM1347.3 200.3h4.3v10.6h-4.3zM1363.6 171.4h4.3v39.5h-4.3zM1369 157.6h4.3v12.8h-4.3zM1379.8 161.6h4.3v2h-4.3zM1385.3 160.8h4.3v0.2h-4.3zM1407 197.1h4.3v9.6h-4.3zM1417.8 201.5h4.3v9.4h-4.3zM1428.7 261h4.3v18.4h-4.3zM1434.1 259.2h4.3v0.8h-4.3zM1439.5 258.4h4.3v0.2h-4.3zM1455.8 287.6h4.3v7.3h-4.3zM1466.7 330.1h4.3v4.2h-4.3zM1504.6 335.2h4.3v45.6h-4.3zM1515.5 341.2h4.3v0.3h-4.3zM1520.9 300.6h4.3v39.6h-4.3zM1531.8 275.7h4.3v25.7h-4.3zM1537.2 257.1h4.3v17.6h-4.3zM1558.9 283h4.3v9.9h-4.3zM1564.3 262.8h4.3v19.2h-4.3zM1569.8 261.7h4.3v0.2h-4.3zM1580.6 266.1h4.3v2.9h-4.3zM1591.5 264.8h4.3v9.4h-4.3zM1613.2 267.4h4.3v4.2h-4.3z" stroke="#e87f7a" stroke-width="1" fill="#131b2e"/>
<path d="M82.5 340.8h5.3v7.4h-5.3zM98.8 332.2h5.3v3.7h-5.3zM125.9 300.1h5.3v4.9h-5.3zM131.4 305.1h5.3v1.7h-5.3zM147.6 286.1h5.3v15.3h-5.3zM153.1 301.4h5.3v3.7h-5.3zM163.9 292.7h5.3v2.5h-5.3zM169.3 295.2h5.3v1.2h-5.3zM196.5 261.9h5.3v6.2h-5.3zM201.9 263.2h5.3v6.2h-5.3zM207.3 269.3h5.3v3.7h-5.3zM212.8 273h5.3v3.7h-5.3zM223.6 275.5h5.3v7.4h-5.3zM239.9 272.3h5.3v31.6h-5.3zM261.6 273h5.3v2.5h-5.3zM277.9 250.8h5.3v9.1h-5.3zM294.1 245.6h5.3v6.5h-5.3zM310.4 245.6h5.3v7.8h-5.3zM321.3 243.8h5.3v49.2h-5.3zM326.7 293h5.3v10.9h-5.3zM343 278h5.3v6.5h-5.3zM348.4 284.5h5.3v9.1h-5.3zM353.8 293.5h5.3v3.9h-5.3zM364.7 293.5h5.3v2.6h-5.3zM370.1 296.1h5.3v29.8h-5.3zM386.4 303.9h5.3v14.2h-5.3zM391.8 318.1h5.3v12.9h-5.3zM424.4 274.1h5.3v2.6h-5.3zM429.8 276.7h5.3v2.6h-5.3zM440.6 285.2h5.3v3.1h-5.3zM451.5 285.2h5.3v2.6h-5.3zM456.9 287.8h5.3v35.5h-5.3zM462.3 323.3h5.3v3.9h-5.3zM467.8 327.2h5.3v2.6h-5.3zM489.5 300h5.3v5.2h-5.3zM494.9 305.2h5.3v6h-5.3zM500.3 311.1h5.3v6.2h-5.3zM516.6 301.8h5.3v11.1h-5.3zM532.9 280.6h5.3v14.2h-5.3zM543.7 280.6h5.3v12.9h-5.3zM565.4 248.2h5.3v3.4h-5.3zM576.3 249.5h5.3v3.9h-5.3zM581.7 253.4h5.3v6.5h-5.3zM592.6 256.8h5.3v10.4h-5.3zM608.9 263.8h5.3v7h-5.3zM619.7 265.1h5.3v1h-5.3zM630.6 258.6h5.3v6.5h-5.3zM641.4 263.2h5.3v1.8h-5.3zM652.3 257.8h5.3v6h-5.3zM668.5 250.8h5.3v1.8h-5.3zM674 252.6h5.3v2.6h-5.3zM679.4 255.2h5.3v2.6h-5.3zM701.1 243.7h5.3v3.4h-5.3zM706.5 247h5.3v2.6h-5.3zM728.2 242.7h5.3v4.4h-5.3zM733.6 247h5.3v1.8h-5.3zM755.4 240.6h5.3v3.9h-5.3zM760.8 244.5h5.3v2.6h-5.3zM766.2 247h5.3v1h-5.3zM793.3 239.3h5.3v6h-5.3zM798.8 245.2h5.3v18.1h-5.3zM809.6 256.1h5.3v6.5h-5.3zM815 262.6h5.3v6.5h-5.3zM836.7 243.2h5.3v3.1h-5.3zM842.2 246.3h5.3v2.6h-5.3zM858.4 242h5.3v2.6h-5.3zM885.6 212h5.3v9.7h-5.3zM891 221.7h5.3v1h-5.3zM901.9 216.4h5.3v2h-5.3zM907.3 218.4h5.3v9.9h-5.3zM918.1 226.2h5.3v7.3h-5.3zM923.6 233.5h5.3v26.2h-5.3zM929 259.8h5.3v6.9h-5.3zM945.3 254.9h5.3v3.6h-5.3zM950.7 258.4h5.3v12.2h-5.3zM961.5 255.8h5.3v33.6h-5.3zM967 289.4h5.3v6.9h-5.3zM1004.9 145.4h5.3v10.8h-5.3zM1010.4 156.2h5.3v11.3h-5.3zM1021.2 164.7h5.3v3.4h-5.3zM1026.7 168.1h5.3v8.5h-5.3zM1032.1 176.6h5.3v4.3h-5.3zM1037.5 180.8h5.3v19h-5.3zM1042.9 199.8h5.3v22.7h-5.3zM1059.2 213.4h5.3v7.1h-5.3zM1075.5 211.2h5.3v3.7h-5.3zM1080.9 214.9h5.3v5.7h-5.3zM1086.3 216.2h5.3v8.6h-5.3zM1091.8 224.9h5.3v43.2h-5.3zM1097.2 268h5.3v9.9h-5.3zM1118.9 257.7h5.3v7.9h-5.3zM1156.9 215h5.3v3.7h-5.3zM1167.7 202.7h5.3v14.8h-5.3zM1173.2 217.5h5.3v1.7h-5.3zM1205.7 182.2h5.3v4.4h-5.3zM1211.1 186.1h5.3v1h-5.3zM1216.6 186.1h5.3v2.5h-5.3zM1227.4 172.3h5.3v16.3h-5.3zM1243.7 164.4h5.3v1h-5.3zM1270.8 147.2h5.3v2.5h-5.3zM1276.2 153.7h5.3v2.5h-5.3zM1292.5 136.4h5.3v2h-5.3zM1303.4 128.2h5.3v15.5h-5.3zM1319.7 138.1h5.3v1.2h-5.3zM1330.5 137.4h5.3v55.8h-5.3zM1335.9 193.1h5.3v16.5h-5.3zM1341.4 206.5h5.3v4.9h-5.3zM1352.2 199.8h5.3v4.2h-5.3zM1357.6 204h5.3v7.4h-5.3zM1373.9 157.1h5.3v6.9h-5.3zM1390.2 160.3h5.3v7.4h-5.3zM1395.6 167.7h5.3v34.5h-5.3zM1401 202.3h5.3v4.9h-5.3zM1411.9 196.6h5.3v14.8h-5.3zM1422.8 196.5h5.3v83.3h-5.3zM1444.5 257.9h5.3v1h-5.3zM1449.9 258.1h5.3v37.3h-5.3zM1460.7 287.1h5.3v47.6h-5.3zM1471.6 329.6h5.3v3.4h-5.3zM1477 332.9h5.3v4.4h-5.3zM1482.4 337.3h5.3v33.1h-5.3zM1487.9 370.5h5.3v2.6h-5.3zM1493.3 373h5.3v5.7h-5.3zM1498.7 378.7h5.3v2.6h-5.3zM1509.6 334.7h5.3v7.2h-5.3zM1525.8 300.1h5.3v1.8h-5.3zM1542.1 256.6h5.3v11.6h-5.3zM1547.5 268.2h5.3v20.7h-5.3zM1553 288.9h5.3v4.4h-5.3zM1574.7 261.2h5.3v8.3h-5.3zM1585.5 265.6h5.3v9.1h-5.3zM1596.4 264.3h5.3v2.1h-5.3zM1601.8 266.4h5.3v2.6h-5.3zM1607.2 269h5.3v3.1h-5.3zM1618.1 266.9h5.3v20.7h-5.3zM1623.5 287.6h5.3v7.8h-5.3zM1628.9 295.4h5.3v1h-5.3z" fill="#86d6f5"/>
<path d="M68.9 373.5 L74.3 362 L79.8 353.5 L85.2 348 L90.6 342.3 L96 338.1 L101.5 336.6 L106.9 336.2 L112.3 332.2 L117.7 329.5 L123.2 323.1 L128.6 316.9 L134 311.8 L139.4 306.2 L144.9 299.7 L150.3 299.9 L155.7 299.9 L161.1 297.1 L166.6 296.1 L172 298.2 L177.4 296 L182.8 291.7 L188.3 286.2 L193.7 278.6 L199.1 272.9 L204.6 268.7 L210 266.6 L215.4 268.8 L220.8 272.5 L226.3 275.5 L231.7 277.2 L237.1 277.1 L242.5 282.5 L248 285.7 L253.4 286 L258.8 285.1 L264.2 285.7 L269.7 277.2 L275.1 269 L280.5 264.1 L285.9 259.9 L291.4 253.9 L296.8 252.1 L302.2 251.2 L307.6 248.4 L313.1 248.6 L318.5 248.3 L323.9 256.5 L329.3 268 L334.8 276.7 L340.2 281.7 L345.6 289.8 L351.1 289.9 L356.5 288.6 L361.9 289.4 L367.3 293 L372.8 301.3 L378.2 303.6 L383.6 304.9 L389 309.8 L394.5 316.8 L399.9 317.1 L405.3 319.9 L410.7 318.9 L416.2 314 L421.6 302.6 L427 292.5 L432.4 284.5 L437.9 281.8 L443.3 280.7 L448.7 283 L454.1 285.2 L459.6 294 L465 302.4 L470.4 310.7 L475.9 317.2 L481.3 320.2 L486.7 315.5 L492.1 311.1 L497.6 307.4 L503 307.2 L508.4 308.9 L513.8 309.3 L519.3 310.9 L524.7 306.2 L530.1 298.9 L535.5 295.6 L541 291.3 L546.4 287.5 L551.8 287.5 L557.2 282 L562.7 272.7 L568.1 266.9 L573.5 258.1 L578.9 251.2 L584.4 252.5 L589.8 254.2 L595.2 257.3 L600.6 259.9 L606.1 262 L611.5 264.2 L616.9 265.8 L622.4 265.5 L627.8 264.7 L633.2 265 L638.6 263.5 L644.1 263.5 L649.5 261.9 L654.9 263 L660.3 261.2 L665.8 258.7 L671.2 256.2 L676.6 255.7 L682 254.5 L687.5 254 L692.9 253.8 L698.3 252 L703.7 250.3 L709.2 248.7 L714.6 247.6 L720 246.8 L725.4 246.6 L730.9 246.6 L736.3 246.4 L741.7 245.8 L747.1 245 L752.6 244.6 L758 244 L763.4 243.7 L768.9 244.4 L774.3 245.1 L779.7 245.5 L785.1 244.9 L790.6 243.3 L796 242.8 L801.4 246.3 L806.8 249 L812.3 253.3 L817.7 259.3 L823.1 260.3 L828.5 256.5 L834 253.9 L839.4 250.7 L844.8 246.6 L850.2 245.5 L855.7 245 L861.1 245.3 L866.5 243.4 L871.9 239.1 L877.4 232.7 L882.8 226.7 L888.2 222.1 L893.7 219.1 L899.1 217 L904.5 218.2 L909.9 221.4 L915.4 222.3 L920.8 224.5 L926.2 233.2 L931.6 242.9 L937.1 248.9 L942.5 254.7 L947.9 259.6 L953.3 261.8 L958.8 259.6 L964.2 265.8 L969.6 274.1 L975 280.1 L980.5 280.1 L985.9 274.4 L991.3 256.1 L996.7 229.9 L1002.2 201.3 L1007.6 178.4 L1013 166.4 L1018.5 159.8 L1023.9 160.4 L1029.3 166.6 L1034.7 171.5 L1040.2 178 L1045.6 189.6 L1051 198.6 L1056.4 206 L1061.9 214 L1067.3 216.7 L1072.7 214.4 L1078.1 214.7 L1083.6 216.1 L1089 217 L1094.4 227.9 L1099.8 241.2 L1105.3 252.9 L1110.7 263.6 L1116.1 270.2 L1121.5 269.7 L1127 266 L1132.4 261.8 L1137.8 256.2 L1143.2 252.3 L1148.7 245.6 L1154.1 236.7 L1159.5 230 L1165 221.3 L1170.4 217.1 L1175.8 214.6 L1181.2 213.5 L1186.7 209.4 L1192.1 207.4 L1197.5 201.8 L1202.9 194.4 L1208.4 189.8 L1213.8 187.4 L1219.2 186.5 L1224.6 183.2 L1230.1 184.4 L1235.5 181.2 L1240.9 176.9 L1246.3 172.3 L1251.8 169.3 L1257.2 162.9 L1262.6 159.1 L1268 155.7 L1273.5 152.5 L1278.9 152.3 L1284.3 149.1 L1289.8 146 L1295.2 144.2 L1300.6 139.9 L1306 137.5 L1311.5 137.5 L1316.9 137.8 L1322.3 138 L1327.7 139.8 L1333.2 149.7 L1338.6 163.5 L1344 178.2 L1349.4 190.3 L1354.9 203.6 L1360.3 207.2 L1365.7 199.5 L1371.1 188.6 L1376.6 181.5 L1382 172.9 L1387.4 162.7 L1392.8 162 L1398.3 171.1 L1403.7 179.7 L1409.1 186.8 L1414.5 197 L1420 203.7 L1425.4 219.2 L1430.8 229.9 L1436.3 242.3 L1441.7 251.6 L1447.1 263 L1452.5 266.1 L1458 271.4 L1463.4 286.7 L1468.8 301 L1474.2 316 L1479.7 324.3 L1485.1 341 L1490.5 348.7 L1495.9 358.5 L1501.4 368.2 L1506.8 367.7 L1512.2 362 L1517.6 355.5 L1523.1 339.8 L1528.5 323.9 L1533.9 312 L1539.3 294.9 L1544.8 280.4 L1550.2 278.2 L1555.6 276.5 L1561.1 277.9 L1566.5 279 L1571.9 277.7 L1577.3 273.8 L1582.8 268.2 L1588.2 266.7 L1593.6 267.1 L1599 268.1 L1604.5 268 L1609.9 269.3 L1615.3 267.8 L1620.7 272.4 L1626.2 278.2 L1631.6 283.6 L1637 290.4" fill="none" stroke="#aedb62" stroke-width="1.0" stroke-linejoin="round" />
<rect x="190.7" y="248.5" width="6" height="6" fill="#e87f7a"/>
<text x="191.9" y="246.5" font-size="12" fill="#e87f7a" text-anchor="start" letter-spacing="0.15">149.708</text>
<rect x="245" y="326" width="6" height="6" fill="#86d6f5"/>
<text x="246.2" y="342.9" font-size="12" fill="#86d6f5" text-anchor="start" letter-spacing="0.15">16:00</text>
<text x="246.2" y="356.9" font-size="12" fill="#86d6f5" text-anchor="start" letter-spacing="0.15">148.492</text>
<rect x="320.9" y="222.3" width="6" height="6" fill="#e87f7a"/>
<text x="322.1" y="206.6" font-size="12" fill="#e87f7a" text-anchor="start" letter-spacing="0.15">20:00</text>
<text x="322.1" y="220.3" font-size="12" fill="#e87f7a" text-anchor="start" letter-spacing="0.15">150.157</text>
<rect x="472.9" y="346.3" width="6" height="6" fill="#86d6f5"/>
<text x="474.1" y="363.2" font-size="12" fill="#86d6f5" text-anchor="start" letter-spacing="0.15">08:00</text>
<text x="474.1" y="377.2" font-size="12" fill="#86d6f5" text-anchor="start" letter-spacing="0.15">148.146</text>
<rect x="565.1" y="241.5" width="6" height="6" fill="#e87f7a"/>
<text x="566.3" y="225.8" font-size="12" fill="#e87f7a" text-anchor="start" letter-spacing="0.15">04:00</text>
<text x="566.3" y="239.5" font-size="12" fill="#e87f7a" text-anchor="start" letter-spacing="0.15">149.829</text>
<rect x="651.9" y="311.6" width="6" height="6" fill="#86d6f5"/>
<text x="653.1" y="328.5" font-size="12" fill="#86d6f5" text-anchor="start" letter-spacing="0.15">16:00</text>
<text x="653.1" y="342.5" font-size="12" fill="#86d6f5" text-anchor="start" letter-spacing="0.15">148.740</text>
<rect x="787.6" y="232" width="6" height="6" fill="#e87f7a"/>
<text x="788.8" y="216.3" font-size="12" fill="#e87f7a" text-anchor="start" letter-spacing="0.15">16:00</text>
<text x="788.8" y="230" font-size="12" fill="#e87f7a" text-anchor="start" letter-spacing="0.15">149.989</text>
<rect x="820.1" y="277.8" width="6" height="6" fill="#86d6f5"/>
<text x="821.3" y="294.7" font-size="12" fill="#86d6f5" text-anchor="start" letter-spacing="0.15">16:00</text>
<text x="821.3" y="308.7" font-size="12" fill="#86d6f5" text-anchor="start" letter-spacing="0.15">149.323</text>
<rect x="879.8" y="185.6" width="6" height="6" fill="#e87f7a"/>
<text x="881" y="169.9" font-size="12" fill="#e87f7a" text-anchor="start" letter-spacing="0.15">12:00</text>
<text x="881" y="183.6" font-size="12" fill="#e87f7a" text-anchor="start" letter-spacing="0.15">150.784</text>
<rect x="966.6" y="308.3" width="6" height="6" fill="#86d6f5"/>
<text x="967.8" y="325.2" font-size="12" fill="#86d6f5" text-anchor="start" letter-spacing="0.15">00:00</text>
<text x="967.8" y="339.2" font-size="12" fill="#86d6f5" text-anchor="start" letter-spacing="0.15">148.797</text>
<rect x="999.2" y="132.4" width="6" height="6" fill="#e87f7a"/>
<text x="1000.4" y="116.7" font-size="12" fill="#e87f7a" text-anchor="start" letter-spacing="0.15">00:00</text>
<text x="1000.4" y="130.4" font-size="12" fill="#e87f7a" text-anchor="start" letter-spacing="0.15">151.710</text>
<rect x="1091.4" y="286.3" width="6" height="6" fill="#86d6f5"/>
<text x="1092.6" y="303.2" font-size="12" fill="#86d6f5" text-anchor="start" letter-spacing="0.15">20:00</text>
<text x="1092.6" y="317.2" font-size="12" fill="#86d6f5" text-anchor="start" letter-spacing="0.15">149.183</text>
<rect x="1297.6" y="120.8" width="6" height="6" fill="#e87f7a"/>
<text x="1298.8" y="105.1" font-size="12" fill="#e87f7a" text-anchor="start" letter-spacing="0.15">20:00</text>
<text x="1298.8" y="118.8" font-size="12" fill="#e87f7a" text-anchor="start" letter-spacing="0.15">151.908</text>
<rect x="1362.7" y="236.6" width="6" height="6" fill="#86d6f5"/>
<text x="1363.9" y="253.5" font-size="12" fill="#86d6f5" text-anchor="start" letter-spacing="0.15">20:00</text>
<text x="1363.9" y="267.5" font-size="12" fill="#86d6f5" text-anchor="start" letter-spacing="0.15">150.034</text>
<rect x="1389.8" y="148.6" width="6" height="6" fill="#e87f7a"/>
<text x="1391" y="132.9" font-size="12" fill="#e87f7a" text-anchor="start" letter-spacing="0.15">16:00</text>
<text x="1391" y="146.6" font-size="12" fill="#e87f7a" text-anchor="start" letter-spacing="0.15">151.430</text>
<rect x="1492.9" y="404.1" width="6" height="6" fill="#86d6f5"/>
<text x="1494.1" y="421" font-size="12" fill="#86d6f5" text-anchor="start" letter-spacing="0.15">16:00</text>
<text x="1494.1" y="435" font-size="12" fill="#86d6f5" text-anchor="start" letter-spacing="0.15">147.146</text>
<rect x="1536.3" y="246.2" width="6" height="6" fill="#e87f7a"/>
<text x="1537.5" y="230.5" font-size="12" fill="#e87f7a" text-anchor="start" letter-spacing="0.15">00:00</text>
<text x="1537.5" y="244.2" font-size="12" fill="#e87f7a" text-anchor="start" letter-spacing="0.15">149.749</text>
<rect x="1628.6" y="309.6" width="6" height="6" fill="#86d6f5"/>
<text x="1629.8" y="326.5" font-size="12" fill="#86d6f5" text-anchor="start" letter-spacing="0.15">16:00</text>
<text x="1629.8" y="340.5" font-size="12" fill="#86d6f5" text-anchor="start" letter-spacing="0.15">148.773</text>
<g shape-rendering="crispEdges">
<rect x="0" y="495" width="1731" height="1" fill="#b6bac4"/>
<rect x="0" y="629" width="1731" height="1" fill="#b6bac4"/>
<line x1="66" x2="1694" y1="517.5" y2="517.5" stroke="#4d5365"/>
<line x1="66" x2="1694" y1="540.5" y2="540.5" stroke="#4d5365"/>
<line x1="66" x2="1694" y1="562.5" y2="562.5" stroke="#4d5365"/>
<line x1="66" x2="1694" y1="585.5" y2="585.5" stroke="#4d5365"/>
<line x1="66" x2="1694" y1="607.5" y2="607.5" stroke="#4d5365"/>
<line x1="66" x2="1694" y1="651.5" y2="651.5" stroke="#4d5365"/>
<line x1="66" x2="1694" y1="679.5" y2="679.5" stroke="#4d5365"/>
<line x1="66" x2="1694" y1="707.5" y2="707.5" stroke="#4d5365"/>
<line x1="66" x2="1694" y1="736.5" y2="736.5" stroke="#4d5365"/>
</g>
<rect x="66" y="496.5" width="14" height="132" fill="url(#strip)"/>
<rect x="66" y="631" width="14" height="124" fill="url(#strip)"/>
<text x="64.5" y="522" font-size="12.8" fill="#b0b3b8" text-anchor="end" >1.0</text>
<text x="1696" y="522" font-size="12.8" fill="#b0b3b8" text-anchor="start" >1.0</text>
<text x="64.5" y="545" font-size="12.8" fill="#b0b3b8" text-anchor="end" >0.5</text>
<text x="1696" y="545" font-size="12.8" fill="#b0b3b8" text-anchor="start" >0.5</text>
<text x="64.5" y="567" font-size="12.8" fill="#b0b3b8" text-anchor="end" >0.0</text>
<text x="1696" y="567" font-size="12.8" fill="#b0b3b8" text-anchor="start" >0.0</text>
<text x="64.5" y="590" font-size="12.8" fill="#b0b3b8" text-anchor="end" >-0.5</text>
<text x="1696" y="590" font-size="12.8" fill="#b0b3b8" text-anchor="start" >-0.5</text>
<text x="64.5" y="612" font-size="12.8" fill="#b0b3b8" text-anchor="end" >-1.0</text>
<text x="1696" y="612" font-size="12.8" fill="#b0b3b8" text-anchor="start" >-1.0</text>
<text x="64.5" y="656" font-size="12.8" fill="#b0b3b8" text-anchor="end" >80</text>
<text x="1696" y="656" font-size="12.8" fill="#b0b3b8" text-anchor="start" >80</text>
<text x="64.5" y="684" font-size="12.8" fill="#b0b3b8" text-anchor="end" >60</text>
<text x="1696" y="684" font-size="12.8" fill="#b0b3b8" text-anchor="start" >60</text>
<text x="64.5" y="712" font-size="12.8" fill="#b0b3b8" text-anchor="end" >40</text>
<text x="1696" y="712" font-size="12.8" fill="#b0b3b8" text-anchor="start" >40</text>
<text x="64.5" y="741" font-size="12.8" fill="#b0b3b8" text-anchor="end" >20</text>
<text x="1696" y="741" font-size="12.8" fill="#b0b3b8" text-anchor="start" >20</text>
<text x="68.5" y="512" font-size="12.1" fill="#b0b3b8" text-anchor="start" >MACD</text>
<text x="68.5" y="646.3" font-size="12.1" fill="#b0b3b8" text-anchor="start" >RSI</text>
<path d="M72.1 562.5h4.4v-2.9h-4.4zM77.6 562.5h4.4v-5h-4.4zM83 562.5h4.4v-3.1h-4.4zM88.4 562.5h4.4v-4.8h-4.4zM93.8 562.5h4.4v-5.2h-4.4zM99.3 562.5h4.4v-4.8h-4.4zM104.7 562.5h4.4v-3.9h-4.4zM110.1 562.5h4.4v-3.4h-4.4zM115.5 562.5h4.4v-3.8h-4.4zM121 562.5h4.4v-5h-4.4zM126.4 562.5h4.4v-5.3h-4.4zM131.8 562.5h4.4v-4.7h-4.4zM137.2 562.5h4.4v-3.9h-4.4zM142.7 562.5h4.4v-4.6h-4.4zM148.1 562.5h4.4v-2.6h-4.4zM186.1 562.5h4.4v-1.3h-4.4zM191.5 562.5h4.4v-2.7h-4.4zM196.9 562.5h4.4v-2.7h-4.4zM202.4 562.5h4.4v-1.5h-4.4zM267.5 562.5h4.4v-1.3h-4.4zM272.9 562.5h4.4v-3.9h-4.4zM278.3 562.5h4.4v-3.1h-4.4zM283.7 562.5h4.4v-3.4h-4.4zM289.2 562.5h4.4v-3.9h-4.4zM294.6 562.5h4.4v-2.6h-4.4zM300 562.5h4.4v-2.2h-4.4zM305.4 562.5h4.4v-1.6h-4.4zM408.5 562.5h4.4v-2.5h-4.4zM414 562.5h4.4v-5.6h-4.4zM419.4 562.5h4.4v-9.6h-4.4zM424.8 562.5h4.4v-10.4h-4.4zM430.2 562.5h4.4v-9.5h-4.4zM435.7 562.5h4.4v-7.2h-4.4zM441.1 562.5h4.4v-5h-4.4zM446.5 562.5h4.4v-3.9h-4.4zM451.9 562.5h4.4v-2.5h-4.4zM484.5 562.5h4.4v-0.8h-4.4zM489.9 562.5h4.4v-1.4h-4.4zM495.4 562.5h4.4v-0.8h-4.4zM511.6 562.5h4.4v-1.8h-4.4zM517.1 562.5h4.4v-1h-4.4zM522.5 562.5h4.4v-4.2h-4.4zM527.9 562.5h4.4v-6.5h-4.4zM533.3 562.5h4.4v-4.9h-4.4zM538.8 562.5h4.4v-5.7h-4.4zM544.2 562.5h4.4v-3.5h-4.4zM549.6 562.5h4.4v-2.9h-4.4zM555 562.5h4.4v-7.3h-4.4zM560.5 562.5h4.4v-9.3h-4.4zM565.9 562.5h4.4v-8.7h-4.4zM571.3 562.5h4.4v-7.5h-4.4zM576.7 562.5h4.4v-5.3h-4.4zM582.2 562.5h4.4v-2.4h-4.4zM587.6 562.5h4.4v-0.9h-4.4zM663.6 562.5h4.4v-0.6h-4.4zM669 562.5h4.4v-0.7h-4.4zM696.1 562.5h4.4v-1.1h-4.4zM701.5 562.5h4.4v-0.9h-4.4zM831.8 562.5h4.4v-1.7h-4.4zM837.2 562.5h4.4v-1.8h-4.4zM842.6 562.5h4.4v-1.3h-4.4zM848 562.5h4.4v-1.5h-4.4zM853.5 562.5h4.4v-1.9h-4.4zM858.9 562.5h4.4v-1.4h-4.4zM864.3 562.5h4.4v-2.2h-4.4zM869.7 562.5h4.4v-3.7h-4.4zM875.2 562.5h4.4v-6.2h-4.4zM880.6 562.5h4.4v-6.7h-4.4zM886 562.5h4.4v-4.7h-4.4zM891.5 562.5h4.4v-2.9h-4.4zM896.9 562.5h4.4v-2.5h-4.4zM902.3 562.5h4.4v-1.5h-4.4zM983.7 562.5h4.4v-6.5h-4.4zM989.1 562.5h4.4v-14.8h-4.4zM994.5 562.5h4.4v-22.3h-4.4zM1000 562.5h4.4v-26.5h-4.4zM1005.4 562.5h4.4v-24h-4.4zM1010.8 562.5h4.4v-18.3h-4.4zM1016.2 562.5h4.4v-13.7h-4.4zM1021.7 562.5h4.4v-9h-4.4zM1027.1 562.5h4.4v-4h-4.4zM1130.2 562.5h4.4v-1.3h-4.4zM1135.6 562.5h4.4v-3.9h-4.4zM1141 562.5h4.4v-6.2h-4.4zM1146.5 562.5h4.4v-8h-4.4zM1151.9 562.5h4.4v-10.7h-4.4zM1157.3 562.5h4.4v-10.6h-4.4zM1162.8 562.5h4.4v-11.9h-4.4zM1168.2 562.5h4.4v-9.2h-4.4zM1173.6 562.5h4.4v-6.6h-4.4zM1179 562.5h4.4v-6.1h-4.4zM1184.5 562.5h4.4v-6.7h-4.4zM1189.9 562.5h4.4v-7h-4.4zM1195.3 562.5h4.4v-6.8h-4.4zM1200.7 562.5h4.4v-6.8h-4.4zM1206.2 562.5h4.4v-5.2h-4.4zM1211.6 562.5h4.4v-3.6h-4.4zM1217 562.5h4.4v-1.8h-4.4zM1222.4 562.5h4.4v-2.8h-4.4zM1233.3 562.5h4.4v-1.3h-4.4zM1238.7 562.5h4.4v-2.2h-4.4zM1244.1 562.5h4.4v-1.9h-4.4zM1249.6 562.5h4.4v-2.4h-4.4zM1255 562.5h4.4v-2.1h-4.4zM1260.4 562.5h4.4v-2h-4.4zM1265.8 562.5h4.4v-2h-4.4zM1271.3 562.5h4.4v-1h-4.4zM1287.6 562.5h4.4v-0.7h-4.4zM1298.4 562.5h4.4v-1h-4.4zM1368.9 562.5h4.4v-3.2h-4.4zM1374.4 562.5h4.4v-5.2h-4.4zM1379.8 562.5h4.4v-6.2h-4.4zM1385.2 562.5h4.4v-6.2h-4.4zM1390.6 562.5h4.4v-4.6h-4.4zM1504.6 562.5h4.4v-4.2h-4.4zM1510 562.5h4.4v-8.6h-4.4zM1515.4 562.5h4.4v-11h-4.4zM1520.9 562.5h4.4v-18.1h-4.4zM1526.3 562.5h4.4v-20.2h-4.4zM1531.7 562.5h4.4v-23.9h-4.4zM1537.1 562.5h4.4v-26.5h-4.4zM1542.6 562.5h4.4v-23.7h-4.4zM1548 562.5h4.4v-17.1h-4.4zM1553.4 562.5h4.4v-11.7h-4.4zM1558.9 562.5h4.4v-9.6h-4.4zM1564.3 562.5h4.4v-10.6h-4.4zM1569.7 562.5h4.4v-10.1h-4.4zM1575.1 562.5h4.4v-7.5h-4.4zM1580.6 562.5h4.4v-5.9h-4.4zM1586 562.5h4.4v-3.1h-4.4zM1591.4 562.5h4.4v-2.7h-4.4zM1596.8 562.5h4.4v-1.7h-4.4zM1602.3 562.5h4.4v-0.5h-4.4z" fill="#a82e9c"/>
<path d="M66.7 562.5h4.4v1.7h-4.4zM169.8 562.5h4.4v0.4h-4.4zM175.2 562.5h4.4v1.1h-4.4zM213.2 562.5h4.4v1.2h-4.4zM218.6 562.5h4.4v2.1h-4.4zM224.1 562.5h4.4v3h-4.4zM229.5 562.5h4.4v3.7h-4.4zM234.9 562.5h4.4v3.5h-4.4zM240.3 562.5h4.4v6.5h-4.4zM245.8 562.5h4.4v6.6h-4.4zM251.2 562.5h4.4v5h-4.4zM256.6 562.5h4.4v1.9h-4.4zM262 562.5h4.4v1h-4.4zM321.7 562.5h4.4v7.4h-4.4zM327.1 562.5h4.4v12.1h-4.4zM332.6 562.5h4.4v11.1h-4.4zM338 562.5h4.4v7.9h-4.4zM343.4 562.5h4.4v6.5h-4.4zM348.9 562.5h4.4v6.5h-4.4zM354.3 562.5h4.4v6.3h-4.4zM359.7 562.5h4.4v4.9h-4.4zM365.1 562.5h4.4v4h-4.4zM370.6 562.5h4.4v7.4h-4.4zM376 562.5h4.4v5h-4.4zM381.4 562.5h4.4v3h-4.4zM386.8 562.5h4.4v3.5h-4.4zM392.3 562.5h4.4v5.1h-4.4zM397.7 562.5h4.4v4.4h-4.4zM403.1 562.5h4.4v2.2h-4.4zM457.4 562.5h4.4v3.7h-4.4zM462.8 562.5h4.4v6.8h-4.4zM468.2 562.5h4.4v8h-4.4zM473.7 562.5h4.4v5.9h-4.4zM479.1 562.5h4.4v1.9h-4.4zM500.8 562.5h4.4v0.4h-4.4zM593 562.5h4.4v1.8h-4.4zM598.4 562.5h4.4v2.5h-4.4zM603.9 562.5h4.4v3.1h-4.4zM609.3 562.5h4.4v4.4h-4.4zM614.7 562.5h4.4v4h-4.4zM620.2 562.5h4.4v3.7h-4.4zM625.6 562.5h4.4v2.3h-4.4zM631 562.5h4.4v2.6h-4.4zM636.4 562.5h4.4v2.3h-4.4zM641.9 562.5h4.4v2.4h-4.4zM647.3 562.5h4.4v1.3h-4.4zM652.7 562.5h4.4v1.6h-4.4zM658.1 562.5h4.4v0.6h-4.4zM679.8 562.5h4.4v0.6h-4.4zM685.3 562.5h4.4v0.4h-4.4zM734.1 562.5h4.4v1.1h-4.4zM739.5 562.5h4.4v0.8h-4.4zM755.8 562.5h4.4v0.5h-4.4zM761.2 562.5h4.4v1.2h-4.4zM766.7 562.5h4.4v1.7h-4.4zM772.1 562.5h4.4v1.5h-4.4zM777.5 562.5h4.4v0.9h-4.4zM782.9 562.5h4.4v0.4h-4.4zM793.8 562.5h4.4v0.7h-4.4zM799.2 562.5h4.4v3.7h-4.4zM804.6 562.5h4.4v3.8h-4.4zM810.1 562.5h4.4v4.4h-4.4zM815.5 562.5h4.4v5.2h-4.4zM820.9 562.5h4.4v2.3h-4.4zM907.7 562.5h4.4v0.8h-4.4zM913.2 562.5h4.4v1.8h-4.4zM918.6 562.5h4.4v3.3h-4.4zM924 562.5h4.4v7.8h-4.4zM929.4 562.5h4.4v10.3h-4.4zM934.9 562.5h4.4v9.2h-4.4zM940.3 562.5h4.4v7.2h-4.4zM945.7 562.5h4.4v6h-4.4zM951.1 562.5h4.4v6.5h-4.4zM956.6 562.5h4.4v3.8h-4.4zM962 562.5h4.4v6.9h-4.4zM967.4 562.5h4.4v8.5h-4.4zM972.8 562.5h4.4v7h-4.4zM978.3 562.5h4.4v2.6h-4.4zM1038 562.5h4.4v5.4h-4.4zM1043.4 562.5h4.4v11.3h-4.4zM1048.8 562.5h4.4v12.1h-4.4zM1054.2 562.5h4.4v11.6h-4.4zM1059.7 562.5h4.4v11.5h-4.4zM1065.1 562.5h4.4v9.5h-4.4zM1070.5 562.5h4.4v7.4h-4.4zM1075.9 562.5h4.4v6.3h-4.4zM1081.4 562.5h4.4v6h-4.4zM1086.8 562.5h4.4v6h-4.4zM1092.2 562.5h4.4v11.7h-4.4zM1097.6 562.5h4.4v14.7h-4.4zM1103.1 562.5h4.4v13.7h-4.4zM1108.5 562.5h4.4v11.8h-4.4zM1113.9 562.5h4.4v6.8h-4.4zM1119.3 562.5h4.4v4.6h-4.4zM1124.8 562.5h4.4v1.7h-4.4zM1276.7 562.5h4.4v1h-4.4zM1303.8 562.5h4.4v1.5h-4.4zM1309.3 562.5h4.4v2.5h-4.4zM1314.7 562.5h4.4v2.8h-4.4zM1320.1 562.5h4.4v3.2h-4.4zM1325.5 562.5h4.4v3.2h-4.4zM1331 562.5h4.4v11.4h-4.4zM1336.4 562.5h4.4v17h-4.4zM1341.8 562.5h4.4v18.3h-4.4zM1347.2 562.5h4.4v15.4h-4.4zM1352.7 562.5h4.4v12.9h-4.4zM1358.1 562.5h4.4v11.4h-4.4zM1363.5 562.5h4.4v3.3h-4.4zM1396.1 562.5h4.4v1.8h-4.4zM1401.5 562.5h4.4v5.3h-4.4zM1406.9 562.5h4.4v4.8h-4.4zM1412.3 562.5h4.4v6.1h-4.4zM1417.8 562.5h4.4v4.4h-4.4zM1423.2 562.5h4.4v14.6h-4.4zM1428.6 562.5h4.4v14.9h-4.4zM1434.1 562.5h4.4v12.8h-4.4zM1439.5 562.5h4.4v9.9h-4.4zM1444.9 562.5h4.4v7h-4.4zM1450.3 562.5h4.4v9.8h-4.4zM1455.8 562.5h4.4v8.2h-4.4zM1461.2 562.5h4.4v13h-4.4zM1466.6 562.5h4.4v12.4h-4.4zM1472 562.5h4.4v10.5h-4.4zM1477.5 562.5h4.4v8.2h-4.4zM1482.9 562.5h4.4v10.2h-4.4zM1488.3 562.5h4.4v9.5h-4.4zM1493.7 562.5h4.4v7.9h-4.4zM1499.2 562.5h4.4v5.5h-4.4zM1607.7 562.5h4.4v0.8h-4.4zM1613.1 562.5h4.4v0.8h-4.4zM1618.5 562.5h4.4v4h-4.4zM1624 562.5h4.4v6.4h-4.4zM1629.4 562.5h4.4v7.1h-4.4zM1634.8 562.5h4.4v8.3h-4.4z" fill="#4a2eae"/>
<path d="M68.9 560 L74.3 559.3 L79.8 558.6 L85.2 557.8 L90.6 556.8 L96 555.9 L101.5 555.1 L106.9 554.2 L112.3 553.3 L117.7 552.1 L123.2 550.9 L128.6 549.9 L134 549.1 L139.4 548.3 L144.9 547.5 L150.3 546.8 L155.7 546.5 L161.1 546.3 L166.6 546.5 L172 546.9 L177.4 547.3 L182.8 546.9 L188.3 546.5 L193.7 546.1 L199.1 545.8 L204.6 545.6 L210 545.9 L215.4 546.4 L220.8 547.3 L226.3 548.2 L231.7 549.3 L237.1 550.4 L242.5 552 L248 553.6 L253.4 554.6 L258.8 555.5 L264.2 555.6 L269.7 555.8 L275.1 555.4 L280.5 554.6 L285.9 553.7 L291.4 552.8 L296.8 552.1 L302.2 551.6 L307.6 551.2 L313.1 551.2 L318.5 551.2 L323.9 553.1 L329.3 556.1 L334.8 558.9 L340.2 560.8 L345.6 562.4 L351.1 564.1 L356.5 565.6 L361.9 566.9 L367.3 567.9 L372.8 569.7 L378.2 571 L383.6 571.7 L389 572.6 L394.5 573.9 L399.9 575 L405.3 575.5 L410.7 574.9 L416.2 573.5 L421.6 571.1 L427 568.5 L432.4 566.1 L437.9 564.3 L443.3 563 L448.7 562.1 L454.1 561.5 L459.6 562.4 L465 564.1 L470.4 566.1 L475.9 567.6 L481.3 568 L486.7 567.8 L492.1 567.5 L497.6 567.3 L503 567.4 L508.4 567.4 L513.8 566.9 L519.3 566.7 L524.7 565.6 L530.1 564 L535.5 562.7 L541 561.3 L546.4 560.4 L551.8 559.7 L557.2 557.9 L562.7 555.5 L568.1 553.4 L573.5 551.5 L578.9 550.2 L584.4 549.6 L589.8 549.3 L595.2 549.8 L600.6 550.4 L606.1 551.2 L611.5 552.3 L616.9 553.3 L622.4 554.2 L627.8 554.8 L633.2 555.4 L638.6 556 L644.1 556.6 L649.5 556.9 L654.9 557.3 L660.3 557.5 L665.8 557.3 L671.2 557.2 L676.6 557.1 L682 557.3 L687.5 557.4 L692.9 557.3 L698.3 557.1 L703.7 556.8 L709.2 556.8 L714.6 556.8 L720 556.8 L725.4 556.8 L730.9 556.9 L736.3 557.1 L741.7 557.3 L747.1 557.4 L752.6 557.4 L758 557.5 L763.4 557.8 L768.9 558.3 L774.3 558.6 L779.7 558.9 L785.1 559 L790.6 559 L796 559.1 L801.4 560.1 L806.8 561 L812.3 562.1 L817.7 563.4 L823.1 564 L828.5 564 L834 563.5 L839.4 563.1 L844.8 562.8 L850.2 562.4 L855.7 561.9 L861.1 561.5 L866.5 561 L871.9 560.1 L877.4 558.5 L882.8 556.8 L888.2 555.7 L893.7 554.9 L899.1 554.3 L904.5 553.9 L909.9 554.1 L915.4 554.6 L920.8 555.4 L926.2 557.4 L931.6 559.9 L937.1 562.2 L942.5 564 L947.9 565.5 L953.3 567.2 L958.8 568.1 L964.2 569.8 L969.6 572 L975 573.7 L980.5 574.3 L985.9 572.7 L991.3 569 L996.7 563.4 L1002.2 556.8 L1007.6 550.8 L1013 546.2 L1018.5 542.8 L1023.9 540.6 L1029.3 539.6 L1034.7 539.6 L1040.2 541 L1045.6 543.8 L1051 546.8 L1056.4 549.7 L1061.9 552.6 L1067.3 555 L1072.7 556.8 L1078.1 558.4 L1083.6 559.9 L1089 561.4 L1094.4 564.3 L1099.8 568 L1105.3 571.4 L1110.7 574.4 L1116.1 576.1 L1121.5 577.2 L1127 577.7 L1132.4 577.3 L1137.8 576.4 L1143.2 574.8 L1148.7 572.8 L1154.1 570.1 L1159.5 567.5 L1165 564.5 L1170.4 562.2 L1175.8 560.6 L1181.2 559 L1186.7 557.3 L1192.1 555.6 L1197.5 553.9 L1202.9 552.2 L1208.4 550.9 L1213.8 550 L1219.2 549.5 L1224.6 548.8 L1230.1 548.8 L1235.5 548.4 L1240.9 547.9 L1246.3 547.4 L1251.8 546.8 L1257.2 546.3 L1262.6 545.8 L1268 545.3 L1273.5 545 L1278.9 545.3 L1284.3 545.3 L1289.8 545.1 L1295.2 545.1 L1300.6 544.8 L1306 545.2 L1311.5 545.8 L1316.9 546.5 L1322.3 547.3 L1327.7 548.1 L1333.2 550.9 L1338.6 555.2 L1344 559.7 L1349.4 563.6 L1354.9 566.8 L1360.3 569.7 L1365.7 570.5 L1371.1 569.7 L1376.6 568.4 L1382 566.9 L1387.4 565.3 L1392.8 564.2 L1398.3 564.6 L1403.7 565.9 L1409.1 567.1 L1414.5 568.7 L1420 569.8 L1425.4 573.5 L1430.8 577.2 L1436.3 580.4 L1441.7 582.8 L1447.1 584.6 L1452.5 587 L1458 589.1 L1463.4 592.3 L1468.8 595.4 L1474.2 598.1 L1479.7 600.1 L1485.1 602.7 L1490.5 605 L1495.9 607 L1501.4 608.4 L1506.8 607.3 L1512.2 605.2 L1517.6 602.4 L1523.1 597.9 L1528.5 592.8 L1533.9 586.9 L1539.3 580.3 L1544.8 574.3 L1550.2 570.1 L1555.6 567.1 L1561.1 564.7 L1566.5 562.1 L1571.9 559.6 L1577.3 557.7 L1582.8 556.2 L1588.2 555.4 L1593.6 554.8 L1599 554.3 L1604.5 554.2 L1609.9 554.4 L1615.3 554.6 L1620.7 555.6 L1626.2 557.2 L1631.6 559 L1637 561.1" fill="none" stroke="#e8923a" stroke-width="1.1" stroke-linejoin="round" />
<path d="M68.9 561.7 L74.3 556.4 L79.8 553.7 L85.2 554.7 L90.6 552 L96 550.7 L101.5 550.3 L106.9 550.3 L112.3 549.9 L117.7 548.3 L123.2 545.9 L128.6 544.6 L134 544.4 L139.4 544.4 L144.9 543 L150.3 544.2 L155.7 546.1 L161.1 546.4 L166.6 546.5 L172 547.3 L177.4 548.4 L182.8 547.1 L188.3 545.3 L193.7 543.5 L199.1 543.1 L204.6 544 L210 545.9 L215.4 547.6 L220.8 549.3 L226.3 551.2 L231.7 553 L237.1 553.9 L242.5 558.5 L248 560.3 L253.4 559.6 L258.8 557.4 L264.2 556.6 L269.7 554.5 L275.1 551.5 L280.5 551.4 L285.9 550.3 L291.4 548.8 L296.8 549.6 L302.2 549.4 L307.6 549.5 L313.1 551.4 L318.5 551.2 L323.9 560.5 L329.3 568.2 L334.8 570 L340.2 568.7 L345.6 568.9 L351.1 570.5 L356.5 571.9 L361.9 571.8 L367.3 571.9 L372.8 577.1 L378.2 576 L383.6 574.7 L389 576.1 L394.5 578.9 L399.9 579.4 L405.3 577.7 L410.7 572.4 L416.2 567.9 L421.6 561.4 L427 558 L432.4 556.6 L437.9 557.1 L443.3 558.1 L448.7 558.2 L454.1 558.9 L459.6 566 L465 570.9 L470.4 574.1 L475.9 573.5 L481.3 569.9 L486.7 567 L492.1 566.1 L497.6 566.5 L503 567.8 L508.4 567.2 L513.8 565 L519.3 565.7 L524.7 561.3 L530.1 557.4 L535.5 557.8 L541 555.6 L546.4 556.9 L551.8 556.8 L557.2 550.5 L562.7 546.2 L568.1 544.7 L573.5 544 L578.9 544.9 L584.4 547.2 L589.8 548.5 L595.2 551.6 L600.6 553 L606.1 554.3 L611.5 556.7 L616.9 557.3 L622.4 557.9 L627.8 557.1 L633.2 558 L638.6 558.3 L644.1 559 L649.5 558.2 L654.9 558.9 L660.3 558.1 L665.8 556.7 L671.2 556.4 L676.6 556.9 L682 557.9 L687.5 557.8 L692.9 557.2 L698.3 555.9 L703.7 555.9 L709.2 556.7 L714.6 556.9 L720 556.9 L725.4 556.5 L730.9 557.2 L736.3 558.2 L741.7 558.1 L747.1 557.7 L752.6 557.4 L758 558.1 L763.4 559.1 L768.9 560 L774.3 560.2 L779.7 559.8 L785.1 559.4 L790.6 558.9 L796 559.8 L801.4 563.8 L806.8 564.8 L812.3 566.6 L817.7 568.7 L823.1 566.3 L828.5 563.7 L834 561.8 L839.4 561.3 L844.8 561.5 L850.2 560.8 L855.7 560 L861.1 560.1 L866.5 558.8 L871.9 556.4 L877.4 552.3 L882.8 550.1 L888.2 551 L893.7 552 L899.1 551.8 L904.5 552.4 L909.9 555 L915.4 556.3 L920.8 558.7 L926.2 565.1 L931.6 570.2 L937.1 571.5 L942.5 571.3 L947.9 571.6 L953.3 573.7 L958.8 571.9 L964.2 576.7 L969.6 580.4 L975 580.7 L980.5 576.9 L985.9 566.2 L991.3 554.2 L996.7 541.2 L1002.2 530.3 L1007.6 526.8 L1013 527.9 L1018.5 529.2 L1023.9 531.6 L1029.3 535.6 L1034.7 539.7 L1040.2 546.4 L1045.6 555.1 L1051 558.9 L1056.4 561.4 L1061.9 564.2 L1067.3 564.5 L1072.7 564.2 L1078.1 564.7 L1083.6 565.9 L1089 567.4 L1094.4 576.1 L1099.8 582.7 L1105.3 585.1 L1110.7 586.1 L1116.1 582.9 L1121.5 581.8 L1127 579.4 L1132.4 576 L1137.8 572.5 L1143.2 568.6 L1148.7 564.8 L1154.1 559.4 L1159.5 556.9 L1165 552.6 L1170.4 553 L1175.8 553.9 L1181.2 552.9 L1186.7 550.6 L1192.1 548.6 L1197.5 547.1 L1202.9 545.4 L1208.4 545.7 L1213.8 546.4 L1219.2 547.7 L1224.6 546 L1230.1 548.5 L1235.5 547.1 L1240.9 545.7 L1246.3 545.5 L1251.8 544.5 L1257.2 544.2 L1262.6 543.8 L1268 543.3 L1273.5 544 L1278.9 546.3 L1284.3 545.3 L1289.8 544.4 L1295.2 544.9 L1300.6 543.8 L1306 546.6 L1311.5 548.3 L1316.9 549.2 L1322.3 550.5 L1327.7 551.2 L1333.2 562.4 L1338.6 572.1 L1344 578 L1349.4 579 L1354.9 579.8 L1360.3 581.1 L1365.7 573.8 L1371.1 566.5 L1376.6 563.2 L1382 560.7 L1387.4 559.1 L1392.8 559.6 L1398.3 566.4 L1403.7 571.3 L1409.1 572 L1414.5 574.8 L1420 574.2 L1425.4 588.1 L1430.8 592 L1436.3 593.1 L1441.7 592.7 L1447.1 591.5 L1452.5 596.8 L1458 597.3 L1463.4 605.3 L1468.8 607.9 L1474.2 608.6 L1479.7 608.3 L1485.1 612.9 L1490.5 614.5 L1495.9 614.9 L1501.4 613.9 L1506.8 603.1 L1512.2 596.6 L1517.6 591.4 L1523.1 579.8 L1528.5 572.6 L1533.9 563 L1539.3 553.8 L1544.8 550.6 L1550.2 552.9 L1555.6 555.4 L1561.1 555.2 L1566.5 551.5 L1571.9 549.5 L1577.3 550.2 L1582.8 550.3 L1588.2 552.4 L1593.6 552.1 L1599 552.6 L1604.5 553.7 L1609.9 555.2 L1615.3 555.4 L1620.7 559.6 L1626.2 563.6 L1631.6 566.1 L1637 569.4" fill="none" stroke="#aedb62" stroke-width="1.1" stroke-linejoin="round" />
<path d="M68.9 688.6 L74.3 679.6 L79.8 683.4 L85.2 689.7 L90.6 682.4 L96 677.7 L101.5 683.2 L106.9 690 L112.3 688.9 L117.7 683.8 L123.2 658.7 L128.6 647 L134 649.8 L139.4 649.5 L144.9 654.2 L150.3 672.3 L155.7 670.5 L161.1 657.8 L166.6 663.9 L172 668.3 L177.4 666.5 L182.8 662.3 L188.3 658.6 L193.7 660.8 L199.1 672.2 L204.6 670.2 L210 671.5 L215.4 677.7 L220.8 683.8 L226.3 677 L231.7 672.3 L237.1 677.2 L242.5 699.7 L248 689.8 L253.4 688.7 L258.8 689 L264.2 697.9 L269.7 692.8 L275.1 683.2 L280.5 688.2 L285.9 682.1 L291.4 676.9 L296.8 681.5 L302.2 674.5 L307.6 676.1 L313.1 683.6 L318.5 655.4 L323.9 694.3 L329.3 702.6 L334.8 701.2 L340.2 694.7 L345.6 704.2 L351.1 713.2 L356.5 711.4 L361.9 713.7 L367.3 718.8 L372.8 725.3 L378.2 716.7 L383.6 716.5 L389 718.1 L394.5 726.1 L399.9 710.3 L405.3 701.3 L410.7 697.9 L416.2 701.3 L421.6 688.9 L427 685.6 L432.4 684.9 L437.9 689.7 L443.3 689.9 L448.7 670.2 L454.1 681.9 L459.6 703.5 L465 698.6 L470.4 692.8 L475.9 688.5 L481.3 684.7 L486.7 694.4 L492.1 700.7 L497.6 719.2 L503 720.7 L508.4 714.1 L513.8 704 L519.3 708 L524.7 694.9 L530.1 690.1 L535.5 677.7 L541 669.5 L546.4 676.2 L551.8 678.4 L557.2 671.8 L562.7 671.1 L568.1 670 L573.5 665.8 L578.9 664.3 L584.4 670.2 L589.8 672.2 L595.2 671.7 L600.6 679.5 L606.1 683.8 L611.5 678.7 L616.9 683.2 L622.4 672.4 L627.8 671.7 L633.2 705.9 L638.6 710.3 L644.1 709 L649.5 702.3 L654.9 704.2 L660.3 689.7 L665.8 687.8 L671.2 677.6 L676.6 685.3 L682 686.9 L687.5 673.5 L692.9 675 L698.3 669.4 L703.7 680.1 L709.2 674.3 L714.6 674.3 L720 669.6 L725.4 673.3 L730.9 670.5 L736.3 682.5 L741.7 683.5 L747.1 676.8 L752.6 670.1 L758 672.7 L763.4 683.1 L768.9 690.4 L774.3 697.6 L779.7 685 L785.1 676.5 L790.6 676.5 L796 692.7 L801.4 720.6 L806.8 704.8 L812.3 709.3 L817.7 720.9 L823.1 701.2 L828.5 696.9 L834 692.5 L839.4 692.9 L844.8 694.5 L850.2 692.7 L855.7 693.1 L861.1 696.5 L866.5 691.9 L871.9 680.4 L877.4 654.9 L882.8 657.4 L888.2 661.2 L893.7 654 L899.1 659.6 L904.5 666 L909.9 679.6 L915.4 674.5 L920.8 679.9 L926.2 704.3 L931.6 710.2 L937.1 702.4 L942.5 705.3 L947.9 715.5 L953.3 735.6 L958.8 721.2 L964.2 728.7 L969.6 730.3 L975 728.9 L980.5 716.7 L985.9 693.2 L991.3 684.5 L996.7 674 L1002.2 659.9 L1007.6 661.5 L1013 667.5 L1018.5 667.7 L1023.9 667.6 L1029.3 666.1 L1034.7 670.7 L1040.2 664.4 L1045.6 671.2 L1051 670.9 L1056.4 674.9 L1061.9 691 L1067.3 700.6 L1072.7 719 L1078.1 737.6 L1083.6 736.4 L1089 734.4 L1094.4 745.9 L1099.8 746.8 L1105.3 741.4 L1110.7 740.9 L1116.1 723.4 L1121.5 718.5 L1127 720.8 L1132.4 715.1 L1137.8 708.1 L1143.2 707.6 L1148.7 704.8 L1154.1 693.7 L1159.5 692.7 L1165 683.4 L1170.4 665 L1175.8 658.1 L1181.2 656.7 L1186.7 652.9 L1192.1 655.6 L1197.5 647.2 L1202.9 647 L1208.4 653.1 L1213.8 654.6 L1219.2 659.6 L1224.6 656.5 L1230.1 677 L1235.5 666.8 L1240.9 670.5 L1246.3 658 L1251.8 653.8 L1257.2 656.5 L1262.6 658.7 L1268 659.2 L1273.5 663.4 L1278.9 673.5 L1284.3 662 L1289.8 660.6 L1295.2 660.1 L1300.6 662.4 L1306 661.7 L1311.5 668.5 L1316.9 670.6 L1322.3 670.9 L1327.7 674.6 L1333.2 713.6 L1338.6 722.6 L1344 726.3 L1349.4 717.6 L1354.9 716.9 L1360.3 730.1 L1365.7 707.7 L1371.1 700.8 L1376.6 707.5 L1382 700.8 L1387.4 702 L1392.8 705.8 L1398.3 715.3 L1403.7 717.3 L1409.1 695.1 L1414.5 694.4 L1420 689.3 L1425.4 717.5 L1430.8 709.4 L1436.3 707.2 L1441.7 723.3 L1447.1 730.5 L1452.5 735.1 L1458 732.5 L1463.4 738.3 L1468.8 735.4 L1474.2 731.7 L1479.7 731.6 L1485.1 740.1 L1490.5 738.9 L1495.9 744.3 L1501.4 735.4 L1506.8 720 L1512.2 722.5 L1517.6 722.2 L1523.1 705.7 L1528.5 695.8 L1533.9 689.9 L1539.3 665.8 L1544.8 672.5 L1550.2 679.6 L1555.6 679.6 L1561.1 662.6 L1566.5 657.7 L1571.9 654.7 L1577.3 657.5 L1582.8 665.9 L1588.2 666.9 L1593.6 664.8 L1599 677.6 L1604.5 678.1 L1609.9 691.9 L1615.3 700.1 L1620.7 704.9 L1626.2 697.8 L1631.6 695.3 L1637 709.7" fill="none" stroke="#aedb62" stroke-width="1.1" stroke-linejoin="round" />
<g clip-path="url(#cpOv)">
<rect x="274" y="416.5" width="505" height="367.5" fill="url(#bgg)"/>
<g shape-rendering="crispEdges">
<line x1="274" x2="749" y1="790.5" y2="790.5" stroke="#4d5365"/>
<line x1="274" x2="749" y1="749.5" y2="749.5" stroke="#4d5365"/>
<line x1="274" x2="749" y1="707.5" y2="707.5" stroke="#4d5365"/>
<line x1="274" x2="749" y1="666.5" y2="666.5" stroke="#4d5365"/>
<line x1="274" x2="749" y1="625.5" y2="625.5" stroke="#4d5365"/>
<line x1="274" x2="749" y1="584.5" y2="584.5" stroke="#4d5365"/>
<line x1="274" x2="749" y1="543.5" y2="543.5" stroke="#4d5365"/>
<line x1="274" x2="749" y1="501.5" y2="501.5" stroke="#4d5365"/>
<line x1="274" x2="749" y1="460.5" y2="460.5" stroke="#4d5365"/>
<line x1="274" x2="749" y1="419.5" y2="419.5" stroke="#4d5365"/>
<line x1="748" x2="756.5" y1="769.5" y2="769.5" stroke="#6a707e"/>
<line x1="748" x2="752.5" y1="759.5" y2="759.5" stroke="#6a707e"/>
<line x1="748" x2="752.5" y1="738.5" y2="738.5" stroke="#6a707e"/>
<line x1="748" x2="756.5" y1="728.5" y2="728.5" stroke="#6a707e"/>
<line x1="748" x2="752.5" y1="718.5" y2="718.5" stroke="#6a707e"/>
<line x1="748" x2="752.5" y1="697.5" y2="697.5" stroke="#6a707e"/>
<line x1="748" x2="756.5" y1="687.5" y2="687.5" stroke="#6a707e"/>
<line x1="748" x2="752.5" y1="677.5" y2="677.5" stroke="#6a707e"/>
<line x1="748" x2="752.5" y1="656.5" y2="656.5" stroke="#6a707e"/>
<line x1="748" x2="756.5" y1="646.5" y2="646.5" stroke="#6a707e"/>
<line x1="748" x2="752.5" y1="635.5" y2="635.5" stroke="#6a707e"/>
<line x1="748" x2="752.5" y1="615.5" y2="615.5" stroke="#6a707e"/>
<line x1="748" x2="756.5" y1="604.5" y2="604.5" stroke="#6a707e"/>
<line x1="748" x2="752.5" y1="594.5" y2="594.5" stroke="#6a707e"/>
<line x1="748" x2="752.5" y1="574.5" y2="574.5" stroke="#6a707e"/>
<line x1="748" x2="756.5" y1="563.5" y2="563.5" stroke="#6a707e"/>
<line x1="748" x2="752.5" y1="553.5" y2="553.5" stroke="#6a707e"/>
<line x1="748" x2="752.5" y1="532.5" y2="532.5" stroke="#6a707e"/>
<line x1="748" x2="756.5" y1="522.5" y2="522.5" stroke="#6a707e"/>
<line x1="748" x2="752.5" y1="512.5" y2="512.5" stroke="#6a707e"/>
<line x1="748" x2="752.5" y1="491.5" y2="491.5" stroke="#6a707e"/>
<line x1="748" x2="756.5" y1="481.5" y2="481.5" stroke="#6a707e"/>
<line x1="748" x2="752.5" y1="471.5" y2="471.5" stroke="#6a707e"/>
<line x1="748" x2="752.5" y1="450.5" y2="450.5" stroke="#6a707e"/>
<line x1="748" x2="756.5" y1="440.5" y2="440.5" stroke="#6a707e"/>
<line x1="748" x2="752.5" y1="429.5" y2="429.5" stroke="#6a707e"/>
<line x1="748" x2="752.5" y1="409.5" y2="409.5" stroke="#6a707e"/>
<line x1="748" x2="756.5" y1="398.5" y2="398.5" stroke="#6a707e"/>
</g>
<text x="750.8" y="794.9" font-size="12.8" fill="#b0b3b8" text-anchor="start" >145.00</text>
<text x="750.8" y="753.9" font-size="12.8" fill="#b0b3b8" text-anchor="start" >146.00</text>
<text x="750.8" y="711.9" font-size="12.8" fill="#b0b3b8" text-anchor="start" >147.00</text>
<text x="750.8" y="670.9" font-size="12.8" fill="#b0b3b8" text-anchor="start" >148.00</text>
<text x="750.8" y="629.9" font-size="12.8" fill="#b0b3b8" text-anchor="start" >149.00</text>
<text x="750.8" y="588.9" font-size="12.8" fill="#b0b3b8" text-anchor="start" >150.00</text>
<text x="750.8" y="547.9" font-size="12.8" fill="#b0b3b8" text-anchor="start" >151.00</text>
<text x="750.8" y="505.9" font-size="12.8" fill="#b0b3b8" text-anchor="start" >152.00</text>
<text x="750.8" y="464.9" font-size="12.8" fill="#b0b3b8" text-anchor="start" >153.00</text>
<text x="750.8" y="423.9" font-size="12.8" fill="#b0b3b8" text-anchor="start" >154.00</text>
</g>
<g clip-path="url(#cpOvP)">
<path d="M236.6 580.6 L241.9 579 L247.2 578.5 L252.6 579.3 L257.9 579.3 L263.2 581.4 L268.5 584.1 L273.8 583.8 L279.2 582.2 L284.5 580 L289.8 578.1 L295.1 579.6 L300.4 579.2 L305.8 581.6 L311.1 580.1 L316.4 576.1 L321.7 571.9 L327 570.2 L332.4 568.1 L337.7 568.1 L343 567.6 L348.3 565.5 L353.6 563.5 L359 559.2 L364.3 555.8 L369.6 555.3 L374.9 554.2 L380.2 554 L385.6 551.4 L390.9 547.1 L396.2 545.9 L401.5 544 L406.8 537.5 L412.2 533.7 L417.5 530.8 L422.8 528.5 L428.1 529.1 L433.4 529.1 L438.8 528.9 L444.1 526.9 L449.4 525.2 L454.7 529.5 L460 534.4 L465.4 541 L470.7 541 L476 542.6 L481.3 542.6 L486.6 545.5 L492 545.5 L497.3 545.6 L502.6 549 L507.9 549 L513.2 549 L518.6 549 L523.9 549 L529.2 549 L534.5 546.3 L539.8 546.3 L545.2 565.6 L550.5 566.5 L555.8 566.5 L561.1 567.9 L566.4 574.9 L571.8 580.9 L577.1 585.1 L582.4 596.2 L587.7 598.2 L593 609.1 L598.4 609.1 L603.7 618.8 L609 627 L614.3 628.7 L619.6 636.8 L625 637.4 L630.3 642.1 L635.6 643.2 L640.9 638.6 L646.2 635.5 L651.6 635.6 L656.9 638.2 L662.2 636 L667.5 635.1 L672.8 629.8 L678.2 629.8 L683.5 636.3 L688.8 631.3 L694.1 631.3 L699.4 628.1 L704.8 628.4 L710.1 630.9 L715.4 630.9 L720.7 630 L726 628.1 L731.4 627.9 L736.7 628.6 L742 631.1 L747.3 632.6 L752.6 630.4 L752.6 613.8 L747.3 613.8 L742 613.8 L736.7 613.8 L731.4 613.8 L726 607 L720.7 606.7 L715.4 606.7 L710.1 606.6 L704.8 606.6 L699.4 603.5 L694.1 603.5 L688.8 603.5 L683.5 603.5 L678.2 603.5 L672.8 603.5 L667.5 603.5 L662.2 603.5 L656.9 603.5 L651.6 603.5 L646.2 603.5 L640.9 603.5 L635.6 603.5 L630.3 603.5 L625 603.5 L619.6 603.5 L614.3 603.5 L609 601.8 L603.7 593.5 L598.4 583.9 L593 583.9 L587.7 583.9 L582.4 582 L577.1 571.4 L571.8 567.3 L566.4 561.3 L561.1 561.3 L555.8 561.3 L550.5 561.3 L545.2 560.4 L539.8 547.5 L534.5 550.4 L529.2 552.2 L523.9 557.4 L518.6 557.4 L513.2 557.4 L507.9 559.6 L502.6 559.6 L497.3 560.1 L492 561.6 L486.6 561.6 L481.3 561.6 L476 561.6 L470.7 561.6 L465.4 561.6 L460 561.6 L454.7 561.6 L449.4 561.6 L444.1 561.6 L438.8 561.6 L433.4 561.6 L428.1 561.6 L422.8 562.1 L417.5 563.3 L412.2 564.2 L406.8 566.3 L401.5 566.2 L396.2 566.2 L390.9 566.2 L385.6 566.2 L380.2 567.5 L374.9 571 L369.6 574 L364.3 574 L359 574 L353.6 574 L348.3 574 L343 574 L337.7 574 L332.4 574 L327 574 L321.7 574 L316.4 574 L311.1 574 L305.8 574 L300.4 574 L295.1 574 L289.8 574 L284.5 574 L279.2 574 L273.8 574 L268.5 574 L263.2 574 L257.9 574 L252.6 574 L247.2 574 L241.9 574 L236.6 574Z" fill="#74757b" fill-opacity="0.82"/>
<path d="M236.6 580.6 L241.9 579 L247.2 578.5 L252.6 579.3 L257.9 579.3 L263.2 581.4 L268.5 584.1 L273.8 583.8 L279.2 582.2 L284.5 580 L289.8 578.1 L295.1 579.6 L300.4 579.2 L305.8 581.6 L311.1 580.1 L316.4 576.1 L321.7 571.9 L327 570.2 L332.4 568.1 L337.7 568.1 L343 567.6 L348.3 565.5 L353.6 563.5 L359 559.2 L364.3 555.8 L369.6 555.3 L374.9 554.2 L380.2 554 L385.6 551.4 L390.9 547.1 L396.2 545.9 L401.5 544 L406.8 537.5 L412.2 533.7 L417.5 530.8 L422.8 528.5 L428.1 529.1 L433.4 529.1 L438.8 528.9 L444.1 526.9 L449.4 525.2 L454.7 529.5 L460 534.4 L465.4 541 L470.7 541 L476 542.6 L481.3 542.6 L486.6 545.5 L492 545.5 L497.3 545.6 L502.6 549 L507.9 549 L513.2 549 L518.6 549 L523.9 549 L529.2 549 L534.5 546.3 L539.8 546.3 L545.2 565.6 L550.5 566.5 L555.8 566.5 L561.1 567.9 L566.4 574.9 L571.8 580.9 L577.1 585.1 L582.4 596.2 L587.7 598.2 L593 609.1 L598.4 609.1 L603.7 618.8 L609 627 L614.3 628.7 L619.6 636.8 L625 637.4 L630.3 642.1 L635.6 643.2 L640.9 638.6 L646.2 635.5 L651.6 635.6 L656.9 638.2 L662.2 636 L667.5 635.1 L672.8 629.8 L678.2 629.8 L683.5 636.3 L688.8 631.3 L694.1 631.3 L699.4 628.1 L704.8 628.4 L710.1 630.9 L715.4 630.9 L720.7 630 L726 628.1 L731.4 627.9 L736.7 628.6 L742 631.1 L747.3 632.6 L752.6 630.4" fill="none" stroke="#e0d840" stroke-width="1.1" stroke-linejoin="round" />
<path d="M236.6 574 L241.9 574 L247.2 574 L252.6 574 L257.9 574 L263.2 574 L268.5 574 L273.8 574 L279.2 574 L284.5 574 L289.8 574 L295.1 574 L300.4 574 L305.8 574 L311.1 574 L316.4 574 L321.7 574 L327 574 L332.4 574 L337.7 574 L343 574 L348.3 574 L353.6 574 L359 574 L364.3 574 L369.6 574 L374.9 571 L380.2 567.5 L385.6 566.2 L390.9 566.2 L396.2 566.2 L401.5 566.2 L406.8 566.3 L412.2 564.2 L417.5 563.3 L422.8 562.1 L428.1 561.6 L433.4 561.6 L438.8 561.6 L444.1 561.6 L449.4 561.6 L454.7 561.6 L460 561.6 L465.4 561.6 L470.7 561.6 L476 561.6 L481.3 561.6 L486.6 561.6 L492 561.6 L497.3 560.1 L502.6 559.6 L507.9 559.6 L513.2 557.4 L518.6 557.4 L523.9 557.4 L529.2 552.2 L534.5 550.4 L539.8 547.5 L545.2 560.4 L550.5 561.3 L555.8 561.3 L561.1 561.3 L566.4 561.3 L571.8 567.3 L577.1 571.4 L582.4 582 L587.7 583.9 L593 583.9 L598.4 583.9 L603.7 593.5 L609 601.8 L614.3 603.5 L619.6 603.5 L625 603.5 L630.3 603.5 L635.6 603.5 L640.9 603.5 L646.2 603.5 L651.6 603.5 L656.9 603.5 L662.2 603.5 L667.5 603.5 L672.8 603.5 L678.2 603.5 L683.5 603.5 L688.8 603.5 L694.1 603.5 L699.4 603.5 L704.8 606.6 L710.1 606.6 L715.4 606.7 L720.7 606.7 L726 607 L731.4 613.8 L736.7 613.8 L742 613.8 L747.3 613.8 L752.6 613.8" fill="none" stroke="#d88a30" stroke-width="1.1" stroke-linejoin="round" />
<path d="M236.6 496.1 L241.9 495.6 L247.2 494.9 L252.6 493.8 L257.9 493.5 L263.2 494.2 L268.5 492.7 L273.8 489.4 L279.2 487.7 L284.5 483.6 L289.8 484.2 L295.1 485.6 L300.4 486.3 L305.8 486.4 L311.1 486.2 L316.4 485.7 L321.7 482.3 L327 479.3 L332.4 478.1 L337.7 476.7 L343 474 L348.3 474.5 L353.6 474.2 L359 474.2 L364.3 474.1 L369.6 474.2 L374.9 474.5 L380.2 473.7 L385.6 473.3 L390.9 473.8 L396.2 473.2 L401.5 475.1 L406.8 467.1 L412.2 465.4 L417.5 467.1 L422.8 468 L428.1 470.5 L433.4 470 L438.8 472.6 L444.1 470.1 L449.4 464.5 L454.7 459.2 L460 454.7 L465.4 448.3 L470.7 443.6 L476 439.4 L481.3 441.1 L486.6 450.3 L492 459.6 L497.3 471.2 L502.6 485.5 L507.9 500.1 L513.2 508.5 L518.6 515.1 L523.9 525.3 L529.2 535.1 L534.5 548.8 L539.8 549 L545.2 549.2 L550.5 549.6 L555.8 551.1 L561.1 552.1 L566.4 550.4 L571.8 548.1 L577.1 545.2 L582.4 542.7 L587.7 541 L593 539.4 L598.4 542.7 L603.7 547.8 L609 555.6 L614.3 566.8" fill="none" stroke="#e8923a" stroke-width="1.1" stroke-linejoin="round" />
<path d="M236.6 625.6 L241.9 619.8 L247.2 614.4 L252.6 609.5 L257.9 604.3 L263.2 598.9 L268.5 595.2 L273.8 594.1 L279.2 591.1 L284.5 591 L289.8 586.3 L295.1 580.3 L300.4 575.6 L305.8 572.2 L311.1 569.2 L316.4 569.9 L321.7 574.9 L327 579.2 L332.4 581.2 L337.7 583.5 L343 588.4 L348.3 587 L353.6 586.5 L359 586.5 L364.3 586.4 L369.6 586.4 L374.9 586.7 L380.2 590.4 L385.6 594.2 L390.9 596.3 L396.2 600.2 L401.5 601.7 L406.8 617.9 L412.2 626.5 L417.5 632.2 L422.8 637.8 L428.1 642 L433.4 651.5 L438.8 657.4 L444.1 671 L449.4 684.4 L454.7 696.8 L460 708.4 L465.4 724.5 L470.7 738.9 L476 752.6 L481.3 762.9 L486.6 763.8 L492 764.6 L497.3 763.3 L502.6 757 L507.9 750 L513.2 745.8 L518.6 742 L523.9 735.8 L529.2 730.5 L534.5 722 L539.8 722 L545.2 721.8 L550.5 721.6 L555.8 720.8 L561.1 720.2 L566.4 720.8 L571.8 721.7 L577.1 720.8 L582.4 719.7 L587.7 718 L593 715.7 L598.4 707.6 L603.7 698 L609 685.5 L614.3 670.1" fill="none" stroke="#e8923a" stroke-width="1.1" stroke-linejoin="round" />
<path d="M236.6 517.6 L241.9 516.3 L247.2 514.8 L252.6 513.1 L257.9 512 L263.2 511.7 L268.5 509.8 L273.8 506.8 L279.2 505 L284.5 501.5 L289.8 501.2 L295.1 501.4 L300.4 501.2 L305.8 500.7 L311.1 500 L316.4 499.7 L321.7 497.7 L327 496 L332.4 495.3 L337.7 494.5 L343 493.1 L348.3 493.2 L353.6 492.9 L359 492.9 L364.3 492.8 L369.6 492.9 L374.9 493.2 L380.2 493.2 L385.6 493.4 L390.9 494.3 L396.2 494.3 L401.5 496.2 L406.8 492.2 L412.2 492.3 L417.5 494.6 L422.8 496.3 L428.1 499.1 L433.4 500.3 L438.8 503.4 L444.1 503.6 L449.4 501.2 L454.7 498.8 L460 497 L465.4 494.4 L470.7 492.8 L476 491.6 L481.3 494.8 L486.6 502.6 L492 510.5 L497.3 519.9 L502.6 530.7 L507.9 541.7 L513.2 548 L518.6 552.9 L523.9 560.4 L529.2 567.7 L534.5 577.7 L539.8 577.8 L545.2 578 L550.5 578.3 L555.8 579.4 L561.1 580.1 L566.4 578.8 L571.8 577 L577.1 574.4 L582.4 572.2 L587.7 570.5 L593 568.7 L598.4 570.2 L603.7 572.9 L609 577.3 L614.3 584" fill="none" stroke="#4c4ce6" stroke-width="1.1" stroke-linejoin="round" />
<path d="M236.6 604 L241.9 599.1 L247.2 594.5 L252.6 590.3 L257.9 585.8 L263.2 581.4 L268.5 578.1 L273.8 576.6 L279.2 573.9 L284.5 573.1 L289.8 569.3 L295.1 564.6 L300.4 560.7 L305.8 557.9 L311.1 555.4 L316.4 555.9 L321.7 559.4 L327 562.6 L332.4 564 L337.7 565.7 L343 569.4 L348.3 568.2 L353.6 567.8 L359 567.8 L364.3 567.6 L369.6 567.7 L374.9 568 L380.2 570.9 L385.6 574.1 L390.9 575.9 L396.2 579 L401.5 580.6 L406.8 592.7 L412.2 599.6 L417.5 604.7 L422.8 609.5 L428.1 613.5 L433.4 621.2 L438.8 626.6 L444.1 637.5 L449.4 647.8 L454.7 657.2 L460 666.1 L465.4 678.5 L470.7 689.7 L476 700.4 L481.3 709.3 L486.6 711.6 L492 713.8 L497.3 714.6 L502.6 711.7 L507.9 708.4 L513.2 706.2 L518.6 704.2 L523.9 700.7 L529.2 697.9 L534.5 693.2 L539.8 693.1 L545.2 693.1 L550.5 693 L555.8 692.5 L561.1 692.2 L566.4 692.4 L571.8 692.8 L577.1 691.5 L582.4 690.2 L587.7 688.5 L593 686.3 L598.4 680.1 L603.7 673 L609 663.9 L614.3 652.9" fill="none" stroke="#4c4ce6" stroke-width="1.1" stroke-linejoin="round" />
<path d="M236.6 539.2 L241.9 537 L247.2 534.7 L252.6 532.4 L257.9 530.4 L263.2 529.1 L268.5 526.9 L273.8 524.3 L279.2 522.2 L284.5 519.4 L289.8 518.2 L295.1 517.2 L300.4 516.1 L305.8 515 L311.1 513.9 L316.4 513.8 L321.7 513.2 L327 512.6 L332.4 512.5 L337.7 512.3 L343 512.2 L348.3 512 L353.6 511.6 L359 511.6 L364.3 511.5 L369.6 511.6 L374.9 511.9 L380.2 512.6 L385.6 513.6 L390.9 514.7 L396.2 515.5 L401.5 517.3 L406.8 517.3 L412.2 519.1 L417.5 522.1 L422.8 524.6 L428.1 527.7 L433.4 530.5 L438.8 534.2 L444.1 537.1 L449.4 537.8 L454.7 538.4 L460 539.3 L465.4 540.4 L470.7 542 L476 543.8 L481.3 548.4 L486.6 554.8 L492 561.3 L497.3 568.6 L502.6 576 L507.9 583.4 L513.2 587.6 L518.6 590.7 L523.9 595.5 L529.2 600.2 L534.5 606.5 L539.8 606.7 L545.2 606.8 L550.5 606.9 L555.8 607.7 L561.1 608.1 L566.4 607.2 L571.8 606 L577.1 603.7 L582.4 601.7 L587.7 600 L593 598.1 L598.4 597.7 L603.7 597.9 L609 598.9 L614.3 601.2" fill="none" stroke="#b25ae6" stroke-width="1.1" stroke-linejoin="round" />
<path d="M236.6 582.4 L241.9 578.4 L247.2 574.6 L252.6 571 L257.9 567.4 L263.2 564 L268.5 561.1 L273.8 559.2 L279.2 556.7 L284.5 555.2 L289.8 552.2 L295.1 548.8 L300.4 545.8 L305.8 543.6 L311.1 541.5 L316.4 541.8 L321.7 544 L327 545.9 L332.4 546.9 L337.7 547.9 L343 550.3 L348.3 549.5 L353.6 549.1 L359 549.1 L364.3 548.9 L369.6 549 L374.9 549.3 L380.2 551.5 L385.6 553.9 L390.9 555.5 L396.2 557.8 L401.5 559.5 L406.8 567.6 L412.2 572.8 L417.5 577.2 L422.8 581.2 L428.1 584.9 L433.4 591 L438.8 595.8 L444.1 604.1 L449.4 611.1 L454.7 617.6 L460 623.8 L465.4 632.5 L470.7 640.5 L476 648.2 L481.3 655.6 L486.6 659.3 L492 663 L497.3 665.9 L502.6 666.5 L507.9 666.7 L513.2 666.7 L518.6 666.4 L523.9 665.7 L529.2 665.3 L534.5 664.3 L539.8 664.3 L545.2 664.3 L550.5 664.3 L555.8 664.2 L561.1 664.2 L566.4 664 L571.8 663.9 L577.1 662.2 L582.4 660.7 L587.7 659 L593 656.9 L598.4 652.6 L603.7 648 L609 642.2 L614.3 635.7" fill="none" stroke="#b25ae6" stroke-width="1.1" stroke-linejoin="round" />
<path d="M236.6 560.8 L241.9 557.7 L247.2 554.6 L252.6 551.7 L257.9 548.9 L263.2 546.6 L268.5 544 L273.8 541.7 L279.2 539.4 L284.5 537.3 L289.8 535.2 L295.1 533 L300.4 531 L305.8 529.3 L311.1 527.7 L316.4 527.8 L321.7 528.6 L327 529.3 L332.4 529.7 L337.7 530.1 L343 531.2 L348.3 530.7 L353.6 530.3 L359 530.3 L364.3 530.2 L369.6 530.3 L374.9 530.6 L380.2 532.1 L385.6 533.8 L390.9 535.1 L396.2 536.7 L401.5 538.4 L406.8 542.5 L412.2 546 L417.5 549.7 L422.8 552.9 L428.1 556.3 L433.4 560.8 L438.8 565 L444.1 570.6 L449.4 574.5 L454.7 578 L460 581.6 L465.4 586.4 L470.7 591.2 L476 596 L481.3 602 L486.6 607.1 L492 612.1 L497.3 617.2 L502.6 621.2 L507.9 625.1 L513.2 627.1 L518.6 628.5 L523.9 630.6 L529.2 632.8 L534.5 635.4 L539.8 635.5 L545.2 635.5 L550.5 635.6 L555.8 635.9 L561.1 636.2 L566.4 635.6 L571.8 634.9 L577.1 633 L582.4 631.2 L587.7 629.5 L593 627.5 L598.4 625.2 L603.7 622.9 L609 620.6 L614.3 618.4" fill="none" stroke="#e8c040" stroke-width="1.1" stroke-linejoin="round" />
<path d="M226 596.2 L231.3 595.8 L236.6 595.3 L241.9 594.8 L247.2 594.3 L252.6 593.8 L257.9 593.4 L263.2 593 L268.5 592.6 L273.8 592.1 L279.2 591.6 L284.5 591.1 L289.8 590.6 L295.1 590.1 L300.4 589.6 L305.8 589.1 L311.1 588.6 L316.4 588.2 L321.7 587.9 L327 587.7 L332.4 587.4 L337.7 587.2 L343 587.1 L348.3 586.8 L353.6 586.4 L359 586.2 L364.3 585.8 L369.6 585.5 L374.9 585.3 L380.2 585.1 L385.6 584.9 L390.9 584.6 L396.2 584.3 L401.5 583.9 L406.8 584 L412.2 583.9 L417.5 583.7 L422.8 583.6 L428.1 583.5 L433.4 583.5 L438.8 583.3 L444.1 583.4 L449.4 583.5 L454.7 583.6 L460 583.6 L465.4 583.8 L470.7 584 L476 584.2 L481.3 584.6 L486.6 584.8 L492 585 L497.3 585.2 L502.6 585.3 L507.9 585.3 L513.2 585.3 L518.6 585.2 L523.9 585 L529.2 584.8 L534.5 584.7 L539.8 584.6 L545.2 584.4 L550.5 584.3 L555.8 584.2 L561.1 584 L566.4 583.9 L571.8 583.7 L577.1 583.6 L582.4 583.4 L587.7 583.4 L593 583.3 L598.4 583.3 L603.7 583.3 L609 583.3 L614.3 583.4" fill="none" stroke="#9c5a20" stroke-width="1.1" stroke-linejoin="round" />
<path d="M226 578.1 L231.3 577.5 L236.6 576.9 L241.9 576.2 L247.2 575.5 L252.6 574.9 L257.9 574.2 L263.2 573.5 L268.5 572.8 L273.8 572 L279.2 571.3 L284.5 570.5 L289.8 569.7 L295.1 569 L300.4 568.2 L305.8 567.5 L311.1 566.7 L316.4 566.4 L321.7 566.1 L327 565.8 L332.4 565.4 L337.7 564.9 L343 564.5 L348.3 564 L353.6 563.3 L359 562.8 L364.3 562.2 L369.6 561.5 L374.9 561 L380.2 560.7 L385.6 560.5 L390.9 560.2 L396.2 560.1 L401.5 560 L406.8 560.5 L412.2 560.7 L417.5 561 L422.8 561.3 L428.1 561.6 L433.4 562 L438.8 562.5 L444.1 563.2 L449.4 563.7 L454.7 564.2 L460 564.7 L465.4 565.6 L470.7 566.4 L476 567.1 L481.3 568 L486.6 568.4 L492 568.7 L497.3 569.1 L502.6 569.3 L507.9 569.8 L513.2 570.3 L518.6 571 L523.9 571.9 L529.2 572.8 L534.5 573.7 L539.8 574.5 L545.2 575.2 L550.5 575.8 L555.8 576.5 L561.1 576.9 L566.4 577.3 L571.8 577.7 L577.1 578 L582.4 578.4 L587.7 578.8 L593 579.2 L598.4 579.7 L603.7 580.2 L609 580.8 L614.3 581" fill="none" stroke="#b048e0" stroke-width="1.1" stroke-linejoin="round" />
<path d="M226 573.6 L231.3 572.8 L236.6 572 L241.9 571.1 L247.2 570.3 L252.6 569.3 L257.9 568.5 L263.2 567.8 L268.5 567.2 L273.8 566.4 L279.2 565.7 L284.5 564.8 L289.8 564.1 L295.1 563.3 L300.4 562.5 L305.8 561.7 L311.1 560.7 L316.4 560.1 L321.7 559.6 L327 559.1 L332.4 558.6 L337.7 558.1 L343 557.5 L348.3 556.7 L353.6 555.5 L359 554.2 L364.3 553 L369.6 551.9 L374.9 551.4 L380.2 551.4 L385.6 551.8 L390.9 552.3 L396.2 552.8 L401.5 553.1 L406.8 554.2 L412.2 555.1 L417.5 555.9 L422.8 556.6 L428.1 557.2 L433.4 557.9 L438.8 558.6 L444.1 559.7 L449.4 560.8 L454.7 561.9 L460 563.1 L465.4 564.6 L470.7 566 L476 567.5 L481.3 568.6 L486.6 569.1 L492 569.7 L497.3 570.4 L502.6 570.8 L507.9 571.1 L513.2 571.3 L518.6 571.3 L523.9 571.5 L529.2 572 L534.5 572.6 L539.8 573.2 L545.2 573.6 L550.5 574.2 L555.8 574.7 L561.1 575.1 L566.4 575.8 L571.8 576.4 L577.1 577.1 L582.4 577.8 L587.7 578.7 L593 579.5 L598.4 580.4 L603.7 581.4 L609 582.6 L614.3 583.7" fill="none" stroke="#4848e0" stroke-width="1.1" stroke-linejoin="round" />
<path d="M226 566.8 L231.3 563.7 L236.6 560.8 L241.9 557.7 L247.2 554.6 L252.6 551.7 L257.9 548.9 L263.2 546.6 L268.5 544 L273.8 541.7 L279.2 539.4 L284.5 537.3 L289.8 535.2 L295.1 533 L300.4 531 L305.8 529.3 L311.1 527.7 L316.4 527.8 L321.7 528.6 L327 529.3 L332.4 529.7 L337.7 530.1 L343 531.2 L348.3 530.7 L353.6 530.3 L359 530.3 L364.3 530.2 L369.6 530.3 L374.9 530.6 L380.2 532.1 L385.6 533.8 L390.9 535.1 L396.2 536.7 L401.5 538.4 L406.8 542.5 L412.2 546 L417.5 549.7 L422.8 552.9 L428.1 556.3 L433.4 560.8 L438.8 565 L444.1 570.6 L449.4 574.5 L454.7 578 L460 581.6 L465.4 586.4 L470.7 591.2 L476 596 L481.3 602 L486.6 607.1 L492 612.1 L497.3 617.2 L502.6 621.2 L507.9 625.1 L513.2 627.1 L518.6 628.5 L523.9 630.6 L529.2 632.8 L534.5 635.4 L539.8 635.5 L545.2 635.5 L550.5 635.6 L555.8 635.9 L561.1 636.2 L566.4 635.6 L571.8 634.9 L577.1 633 L582.4 631.2 L587.7 629.5 L593 627.5 L598.4 625.2 L603.7 622.9 L609 620.6 L614.3 618.4" fill="none" stroke="#e8923a" stroke-width="1.1" stroke-linejoin="round" />
<path d="M236.6 568.6 L241.9 568.4 L247.2 565.8 L252.6 558.9 L257.9 557.2 L263.2 554.3 L268.5 549.4 L273.8 545.3 L279.2 541.2 L284.5 539.3 L289.8 538.7 L295.1 538.7 L300.4 538.4 L305.8 534.3 L311.1 530.8 L316.4 529.8 L321.7 534.4 L327 541 L332.4 541 L337.7 541 L343 541 L348.3 543.8 L353.6 543.8 L359 543.8 L364.3 543.8 L369.6 543.8 L374.9 543.8 L380.2 543.8 L385.6 543.8 L390.9 543.8 L396.2 543.8 L401.5 543.8 L406.8 560.4 L412.2 561.3 L417.5 561.3 L422.8 561.3 L428.1 564.4 L433.4 570.4 L438.8 574.7 L444.1 585.3 L449.4 587.4 L454.7 594.2 L460 594.2 L465.4 603.8 L470.7 612.1 L476 613.8 L481.3 613.8 L486.6 613.8 L492 613.8 L497.3 614 L502.6 614 L507.9 614 L513.2 616.7 L518.6 627.7 L523.9 627.7 L529.2 627.7 L534.5 628.7 L539.8 628.7 L545.2 643.6 L550.5 643.6 L555.8 643.6 L561.1 643.6 L566.4 643.6 L571.8 648.7 L577.1 648.7 L582.4 648.7 L587.7 648.7 L593 648.7 L598.4 648.7 L603.7 648.7 L609 648.7 L614.3 644.3" fill="none" stroke="#e02828" stroke-width="1.1" stroke-linejoin="round" />
<path d="M236.6 539.8 L241.9 539.7 L247.2 537 L252.6 535.2 L257.9 534.6 L263.2 533.7 L268.5 525.6 L273.8 522 L279.2 520.5 L284.5 517.8 L289.8 519.5 L295.1 519.5 L300.4 519.5 L305.8 519.5 L311.1 519.5 L316.4 529.2 L321.7 534.4 L327 541 L332.4 541 L337.7 544.1 L343 544.1 L348.3 547.1 L353.6 547.1 L359 547.4 L364.3 554.1 L369.6 554.1 L374.9 554.1 L380.2 554.1 L385.6 554.1 L390.9 554.1 L396.2 548.7 L401.5 548.7 L406.8 570.8 L412.2 571.8 L417.5 571.8 L422.8 574.5 L428.1 585.5 L433.4 591.4 L438.8 595.6 L444.1 607.2 L449.4 609.1 L454.7 624 L460 624 L465.4 633.7 L470.7 642 L476 643.6 L481.3 659.8 L486.6 660.9 L492 670.3 L497.3 672.4 L502.6 663.2 L507.9 657 L513.2 654.5 L518.6 648.7 L523.9 644.3 L529.2 642.6 L534.5 630.9 L539.8 630.9 L545.2 629.1 L550.5 618.9 L555.8 618.9 L561.1 612.5 L566.4 613.1 L571.8 613.1 L577.1 613.1 L582.4 611.3 L587.7 607.6 L593 607.1 L598.4 608.5 L603.7 613.6 L609 616.4 L614.3 616.4" fill="none" stroke="#7cc84e" stroke-width="1.0" stroke-linejoin="round" />
<path d="M98.3 527.2 L103.6 526.5 L108.9 523 L114.2 519.9 L119.6 521.6 L124.9 526.2 L130.2 515.1 L135.5 512.1 L140.8 513.5 L146.2 506.3 L151.5 517.4 L156.8 515.1 L162.1 513.4 L167.4 514.3 L172.8 512.8 L178.1 552.6 L183.4 564.3 L188.7 565.6 L194 557.3 L199.4 560.3 L204.7 565.6 L210 536.7 L215.3 526.9 L220.6 531.8 L226 529.7 L231.3 529.2 L236.6 534.5 L241.9 559.1 L247.2 562.6 L252.6 555 L257.9 565.6 L263.2 558.2 L268.5 614.3 L273.8 600.5 L279.2 599.2 L284.5 598.7 L289.8 598.8 L295.1 625.4 L300.4 619.5 L305.8 653.4 L311.1 649.7 L316.4 652.1 L321.7 655.2 L327 678.8 L332.4 680.7 L337.7 684.7 L343 686.6 L348.3 653.4 L353.6 658.6 L359 657.6 L364.3 628.7 L369.6 630 L374.9 611 L380.2 597.7 L385.6 606 L390.9 620.8 L396.2 623.9 L401.5 616.2 L406.8 601.8 L412.2 601.1 L417.5 607 L422.8 604.2 L428.1 610.6 L433.4 603.3 L438.8 604.7 L444.1 606.6 L449.4 608.8 L454.7 605.1 L460 619.9 L465.4 625.4 L470.7 625.7 L476 633.1" fill="none" stroke="#e050e0" stroke-width="1.3" stroke-linejoin="round" />
<path d="M82.3 620 L1258.5 465.4" fill="none" stroke="#e0cacc" stroke-width="1.2" stroke-linejoin="round" />
<path d="M614.3 622.1V633.5" stroke="#ffee00" stroke-width="1.2"/>
<rect x="611.7" y="625.7" width="5.2" height="7.4" fill="#ffee00"/>
<path d="M236.6 527.2V527.2M236.6 532.8V532.8M241.9 526.5V526.5M241.9 527.5V530M247.2 521.3V523M247.2 526.5V526.5M252.6 518.1V519.9M252.6 523V523.7M268.5 514.1V515.1M268.5 526.2V526.2M273.8 509.9V512.1M273.8 515.1V515.8M284.5 505.6V506.3M284.5 513.5V515.3M295.1 513.4V515.1M295.1 517.4V519.2M300.4 510.7V513.4M300.4 515.1V518.1M311.1 511.1V512.8M311.1 514.3V519.2M332.4 552V557.3M332.4 565.6V570.5M348.3 532.7V536.7M348.3 565.6V583.1M353.6 525.8V526.9M353.6 536.7V538.5M364.3 529.7V529.7M364.3 531.8V535M369.6 528V529.2M369.6 530.2V529.7M390.9 552.9V555M390.9 562.6V562.6M401.5 557.1V558.2M401.5 565.6V565.6M412.2 593.1V600.5M412.2 614.3V618M417.5 589.4V599.2M417.5 600.5V603.3M422.8 595.9V598.7M422.8 599.7V601M438.8 617.1V619.5M438.8 625.4V638.3M449.4 638.3V649.7M449.4 653.4V663.2M486.6 650.3V653.4M486.6 686.6V690.3M497.3 656.6V657.6M497.3 658.6V666.8M502.6 623.9V628.7M502.6 657.6V663.2M513.2 606.6V611M513.2 630V642.9M518.6 595V597.7M518.6 611V611.7M539.8 614.4V616.2M539.8 623.9V626.3M545.2 600.7V601.8M545.2 616.2V618.9M550.5 596.8V601.1M550.5 602.1V606M561.1 596.3V604.2M561.1 607V609.7M571.8 598.7V603.3M571.8 610.6V612.1M593 603.3V605.1M593 608.8V608.8" stroke="#e87f7a" stroke-width="1.1" fill="none"/>
<path d="M257.9 519.2V523.4M263.2 523.7V526.2M279.2 508.1V515.3M289.8 504.6V534.5M305.8 511.6V514.3M316.4 511.6V553.8M321.7 547.6V564.3M327 560.3V577.5M337.7 553.8V560.6M343 553.3V571.4M359 525.1V535.3M374.9 525.5V537.1M380.2 530.9V559.8M385.6 558.7V572.2M396.2 552.9V567M406.8 555V616.2M428.1 595.9V607.3M433.4 584.8V630M444.1 619.5V659.5M454.7 643.8V660.4M460 651.7V655.2M465.4 650.3V682.5M470.7 674.2V699.1M476 674.8V702.4M481.3 679.7V693.6M492 642.3V658.6M507.9 611.6V633.7M523.9 597.7V606.4M529.2 603.3V624.5M534.5 616.2V630M555.8 601.1V607M566.4 601.4V618M577.1 597.7V607.3M582.4 598.7V606.6M587.7 606.6V609.7M598.4 597.7V620.8M603.7 619.9V630.9M609 612.1V635.1" stroke="#86d6f5" stroke-width="1.1" fill="none"/>
<path d="M234.5 527.7h4.2v4.6h-4.2zM239.8 527h4.2v0.2h-4.2zM245.1 523.5h4.2v2.4h-4.2zM250.5 520.4h4.2v2.2h-4.2zM266.4 515.6h4.2v10.1h-4.2zM271.7 512.6h4.2v2h-4.2zM282.4 506.8h4.2v6.2h-4.2zM293 515.6h4.2v1.3h-4.2zM298.3 513.9h4.2v0.8h-4.2zM309 513.3h4.2v0.4h-4.2zM330.3 557.8h4.2v7.3h-4.2zM346.2 537.2h4.2v27.8h-4.2zM351.5 527.4h4.2v8.8h-4.2zM362.2 530.2h4.2v1.1h-4.2zM367.5 529.7h4.2v0.2h-4.2zM388.8 555.5h4.2v6.6h-4.2zM399.4 558.7h4.2v6.4h-4.2zM410.1 601h4.2v12.8h-4.2zM415.4 599.7h4.2v0.3h-4.2zM420.7 599.2h4.2v0.2h-4.2zM436.7 620h4.2v4.9h-4.2zM447.3 650.2h4.2v2.7h-4.2zM484.5 653.9h4.2v32.2h-4.2zM495.2 658.1h4.2v0.2h-4.2zM500.5 629.2h4.2v27.9h-4.2zM511.1 611.5h4.2v18h-4.2zM516.5 598.2h4.2v12.3h-4.2zM537.7 616.7h4.2v6.7h-4.2zM543.1 602.3h4.2v13.4h-4.2zM548.4 601.6h4.2v0.2h-4.2zM559 604.7h4.2v1.8h-4.2zM569.7 603.8h4.2v6.4h-4.2zM590.9 605.6h4.2v2.7h-4.2z" stroke="#e87f7a" stroke-width="1" fill="#141e35"/>
<path d="M255.3 519.9h5.2v1.8h-5.2zM260.6 524.4h5.2v1.8h-5.2zM276.6 512.1h5.2v1.4h-5.2zM287.2 506.3h5.2v11.1h-5.2zM303.2 513.4h5.2v1h-5.2zM313.8 512.8h5.2v39.7h-5.2zM319.1 552.6h5.2v11.8h-5.2zM324.4 562h5.2v3.5h-5.2zM335.1 557.3h5.2v3h-5.2zM340.4 560.3h5.2v5.3h-5.2zM356.4 526.9h5.2v4.9h-5.2zM372.3 529.2h5.2v5.3h-5.2zM377.6 534.5h5.2v24.6h-5.2zM383 559.1h5.2v3.5h-5.2zM393.6 555h5.2v10.5h-5.2zM404.2 555h5.2v59.3h-5.2zM425.5 598.7h5.2v1h-5.2zM430.8 598.8h5.2v26.5h-5.2zM441.5 619.5h5.2v33.9h-5.2zM452.1 649.7h5.2v2.4h-5.2zM457.4 652.1h5.2v3.1h-5.2zM462.8 655.2h5.2v23.6h-5.2zM468.1 678.8h5.2v1.8h-5.2zM473.4 680.7h5.2v4.1h-5.2zM478.7 684.7h5.2v1.8h-5.2zM489.4 653.4h5.2v5.2h-5.2zM505.3 628.7h5.2v1.3h-5.2zM521.3 597.7h5.2v8.3h-5.2zM526.6 606h5.2v14.7h-5.2zM531.9 620.8h5.2v3.1h-5.2zM553.2 601.1h5.2v5.9h-5.2zM563.8 604.2h5.2v6.5h-5.2zM574.5 603.3h5.2v1.5h-5.2zM579.8 604.7h5.2v1.8h-5.2zM585.1 606.6h5.2v2.2h-5.2zM595.8 605.1h5.2v14.7h-5.2zM601.1 619.9h5.2v5.5h-5.2zM606.4 625.4h5.2v1h-5.2z" fill="#86d6f5"/>
<path d="M236.6 535.6 L241.9 531 L247.2 528.3 L252.6 525.9 L257.9 523.6 L263.2 523.4 L268.5 521.2 L273.8 519 L279.2 517.7 L284.5 514.7 L289.8 512.9 L295.1 512.9 L300.4 513.2 L305.8 513.3 L311.1 514.6 L316.4 521.6 L321.7 531.5 L327 541.9 L332.4 550.5 L337.7 560 L343 562.6 L348.3 557.1 L353.6 549.4 L359 544.3 L364.3 538.1 L369.6 530.9 L374.9 530.4 L380.2 536.8 L385.6 543 L390.9 548.1 L396.2 555.3 L401.5 560.1 L406.8 571.1 L412.2 578.7 L417.5 587.6 L422.8 594.2 L428.1 602.3 L433.4 604.5 L438.8 608.3 L444.1 619.2 L449.4 629.4 L454.7 640 L460 646 L465.4 657.9 L470.7 663.3 L476 670.3 L481.3 677.2 L486.6 676.8 L492 672.8 L497.3 668.2 L502.6 657 L507.9 645.7 L513.2 637.2 L518.6 625 L523.9 614.7 L529.2 613.1 L534.5 611.9 L539.8 612.9 L545.2 613.7 L550.5 612.7 L555.8 610 L561.1 606 L566.4 604.9 L571.8 605.2 L577.1 606 L582.4 605.9 L587.7 606.8 L593 605.7 L598.4 609 L603.7 613.1 L609 617 L614.3 621.8" fill="none" stroke="#aedb62" stroke-width="1.1" stroke-linejoin="round" />
<rect x="281.5" y="499.1" width="6" height="6" fill="#e87f7a"/>
<text x="282.7" y="483.4" font-size="12" fill="#e87f7a" text-anchor="start" letter-spacing="0.15">20:00</text>
<text x="282.7" y="497.1" font-size="12" fill="#e87f7a" text-anchor="start" letter-spacing="0.15">151.908</text>
<rect x="345.3" y="583.6" width="6" height="6" fill="#86d6f5"/>
<text x="346.5" y="600.5" font-size="12" fill="#86d6f5" text-anchor="start" letter-spacing="0.15">20:00</text>
<text x="346.5" y="614.5" font-size="12" fill="#86d6f5" text-anchor="start" letter-spacing="0.15">150.034</text>
<rect x="371.9" y="519" width="6" height="6" fill="#e87f7a"/>
<text x="373.1" y="503.3" font-size="12" fill="#e87f7a" text-anchor="start" letter-spacing="0.15">16:00</text>
<text x="373.1" y="517" font-size="12" fill="#e87f7a" text-anchor="start" letter-spacing="0.15">151.430</text>
<rect x="473" y="702.9" width="6" height="6" fill="#86d6f5"/>
<text x="474.2" y="719.8" font-size="12" fill="#86d6f5" text-anchor="start" letter-spacing="0.15">16:00</text>
<text x="474.2" y="733.8" font-size="12" fill="#86d6f5" text-anchor="start" letter-spacing="0.15">147.146</text>
<rect x="515.6" y="588.5" width="6" height="6" fill="#e87f7a"/>
<text x="516.8" y="572.8" font-size="12" fill="#e87f7a" text-anchor="start" letter-spacing="0.15">00:00</text>
<text x="516.8" y="586.5" font-size="12" fill="#e87f7a" text-anchor="start" letter-spacing="0.15">149.749</text>
<rect x="606" y="635.6" width="6" height="6" fill="#86d6f5"/>
<text x="607.2" y="652.5" font-size="12" fill="#86d6f5" text-anchor="start" letter-spacing="0.15">16:00</text>
<text x="607.2" y="666.5" font-size="12" fill="#86d6f5" text-anchor="start" letter-spacing="0.15">148.773</text>
</g>
<rect x="2" y="59.5" width="229.5" height="300.3" fill="#46418b" fill-opacity="0.82"/>
<path d="M2.5 360V60H231" stroke="#7d7cb8" stroke-width="1" fill="none" stroke-opacity="0.9"/>
<path d="M92.5 62v3M94.5 62v3M96.5 62v3M98.5 62v3M100.5 62v3M102.5 62v3M104.5 62v3M106.5 62v3M108.5 62v3M110.5 62v3M112.5 62v3M114.5 62v3M116.5 62v3M118.5 62v3M120.5 62v3M122.5 62v3M124.5 62v3M126.5 62v3M128.5 62v3M130.5 62v3M132.5 62v3M134.5 62v3M136.5 62v3M138.5 62v3M140.5 62v3" stroke="#9a99cc" stroke-width="1" shape-rendering="crispEdges"/>
<rect x="7" y="67.2" width="220" height="17.5" fill="url(#hdr)"/>
<path d="M7 66.8h220" stroke="#8f8fc6" stroke-opacity="0.55" stroke-width="0.8"/>
<path d="M219.6 73.8l5 5m0 -5l-5 5" stroke="#fff" stroke-width="1.3"/>
<text x="11.7" y="80.3" font-size="13.2" fill="#fff" text-anchor="start" >2023/10/11 12:00</text>
<rect x="169" y="68.6" width="42" height="15" rx="3" fill="#262626"/>
<text x="172.5" y="80.6" font-size="11.5" fill="#fff" text-anchor="start" font-family="'Liberation Sans', 'Noto Sans CJK JP', sans-serif">最新足</text>
<text x="25.8" y="97" font-size="12.2" fill="#fff" text-anchor="start" font-family="'Liberation Sans', 'Noto Sans CJK JP', sans-serif">始値</text>
<text x="226" y="97.3" font-size="12.7" fill="#fff" text-anchor="end" >148.724</text>
<text x="25.8" y="111.8" font-size="12.2" fill="#fff" text-anchor="start" font-family="'Liberation Sans', 'Noto Sans CJK JP', sans-serif">高値</text>
<text x="226" y="112.1" font-size="12.7" fill="#fff" text-anchor="end" >148.964</text>
<text x="25.8" y="126.8" font-size="12.2" fill="#fff" text-anchor="start" font-family="'Liberation Sans', 'Noto Sans CJK JP', sans-serif">安値</text>
<text x="226" y="127.1" font-size="12.7" fill="#fff" text-anchor="end" >148.702</text>
<text x="25.8" y="141.6" font-size="12.2" fill="#fff" text-anchor="start" font-family="'Liberation Sans', 'Noto Sans CJK JP', sans-serif">終値</text>
<text x="226" y="141.9" font-size="12.7" fill="#fff" text-anchor="end" >148.897</text>
<rect x="7" y="145.2" width="220" height="14.6" fill="url(#hdr)"/>
<path d="M7 144.8h220" stroke="#8f8fc6" stroke-opacity="0.55" stroke-width="0.8"/>
<path d="M219.6 150.3l5 5m0 -5l-5 5" stroke="#fff" stroke-width="1.3"/>
<text x="11.2" y="157" font-size="12.3" fill="#fff" text-anchor="start" font-family="'Liberation Sans', 'Noto Sans CJK JP', sans-serif">移動平均線</text>
<line x1="6.6" x2="20.6" y1="167.4" y2="167.4" stroke="#aedb62" stroke-width="1.2"/>
<text x="25.8" y="171.9" font-size="12.2" fill="#fff" text-anchor="start" font-family="'Liberation Sans', 'Noto Sans CJK JP', sans-serif">期間</text>
<text x="54.6" y="172.2" font-size="13.2" fill="#fff" text-anchor="start" >[5]</text>
<text x="226" y="172.2" font-size="12.7" fill="#fff" text-anchor="end" >148.764</text>
<line x1="6.6" x2="20.6" y1="182.3" y2="182.3" stroke="#e8923a" stroke-width="1.2"/>
<text x="25.8" y="186.8" font-size="12.2" fill="#fff" text-anchor="start" font-family="'Liberation Sans', 'Noto Sans CJK JP', sans-serif">期間</text>
<text x="54.6" y="187.1" font-size="13.2" fill="#fff" text-anchor="start" >[25]</text>
<text x="226" y="187.1" font-size="12.7" fill="#fff" text-anchor="end" >148.849</text>
<line x1="6.6" x2="20.6" y1="197.2" y2="197.2" stroke="#4848e0" stroke-width="1.2"/>
<text x="25.8" y="201.7" font-size="12.2" fill="#fff" text-anchor="start" font-family="'Liberation Sans', 'Noto Sans CJK JP', sans-serif">期間</text>
<text x="54.6" y="202" font-size="13.2" fill="#fff" text-anchor="start" >[75]</text>
<text x="226" y="202" font-size="12.7" fill="#fff" text-anchor="end" >149.098</text>
<line x1="6.6" x2="20.6" y1="212.1" y2="212.1" stroke="#b048e0" stroke-width="1.2"/>
<text x="25.8" y="216.6" font-size="12.2" fill="#fff" text-anchor="start" font-family="'Liberation Sans', 'Noto Sans CJK JP', sans-serif">期間</text>
<text x="54.6" y="216.9" font-size="13.2" fill="#fff" text-anchor="start" >[100]</text>
<text x="226" y="216.9" font-size="12.7" fill="#fff" text-anchor="end" >148.817</text>
<line x1="6.6" x2="20.6" y1="227.1" y2="227.1" stroke="#9c5a20" stroke-width="1.2"/>
<text x="25.8" y="231.6" font-size="12.2" fill="#fff" text-anchor="start" font-family="'Liberation Sans', 'Noto Sans CJK JP', sans-serif">期間</text>
<text x="54.6" y="231.9" font-size="13.2" fill="#fff" text-anchor="start" >[200]</text>
<text x="226" y="231.9" font-size="12.7" fill="#fff" text-anchor="end" >147.856</text>
<rect x="7" y="235.5" width="220" height="14.2" fill="url(#hdr)"/>
<path d="M7 235.1h220" stroke="#8f8fc6" stroke-opacity="0.55" stroke-width="0.8"/>
<path d="M219.6 240.4l5 5m0 -5l-5 5" stroke="#fff" stroke-width="1.3"/>
<text x="11.2" y="247.4" font-size="9.7" fill="#fff" text-anchor="start" font-family="'Liberation Sans', 'Noto Sans CJK JP', sans-serif">ピークボトム</text>
<text x="73.2" y="247.4" font-size="13.2" fill="#fff" text-anchor="start" >[10]</text>
<rect x="7" y="250.3" width="220" height="14.6" fill="url(#hdr)"/>
<path d="M7 249.9h220" stroke="#8f8fc6" stroke-opacity="0.55" stroke-width="0.8"/>
<path d="M219.6 255.4l5 5m0 -5l-5 5" stroke="#fff" stroke-width="1.3"/>
<text x="11.2" y="262.4" font-size="13.2" fill="#fff" text-anchor="start" >MACD [5, 20, 9]</text>
<line x1="6.6" x2="20.6" y1="272.6" y2="272.6" stroke="#aedb62" stroke-width="1.2"/>
<text x="25.8" y="277.4" font-size="12.6" fill="#fff" text-anchor="start" >MACD</text>
<text x="226" y="277.4" font-size="12.7" fill="#fff" text-anchor="end" >-0.059</text>
<line x1="6.6" x2="20.6" y1="287.5" y2="287.5" stroke="#e8923a" stroke-width="1.2"/>
<text x="25.8" y="292.3" font-size="12.8" fill="#fff" text-anchor="start" >Signal</text>
<text x="226" y="292.3" font-size="12.7" fill="#fff" text-anchor="end" >-0.097</text>
<line x1="6.6" x2="20.6" y1="302.8" y2="302.8" stroke="#a82e9c" stroke-width="1.2"/>
<text x="25.8" y="307.3" font-size="9.3" fill="#fff" text-anchor="start" font-family="'Liberation Sans', 'Noto Sans CJK JP', sans-serif">ヒストグラム</text>
<text x="88.8" y="307.3" font-size="12" fill="#fff" text-anchor="start" font-family="'Liberation Sans', 'Noto Sans CJK JP', sans-serif">(+)</text>
<text x="226" y="307.6" font-size="12.7" fill="#fff" text-anchor="end" >0.038</text>
<line x1="6.6" x2="20.6" y1="317.5" y2="317.5" stroke="#4a2eae" stroke-width="1.2"/>
<text x="25.8" y="322" font-size="9.3" fill="#fff" text-anchor="start" font-family="'Liberation Sans', 'Noto Sans CJK JP', sans-serif">ヒストグラム</text>
<text x="88.8" y="322" font-size="12" fill="#fff" text-anchor="start" font-family="'Liberation Sans', 'Noto Sans CJK JP', sans-serif">(−)</text>
<rect x="7" y="325.7" width="220" height="14.2" fill="url(#hdr)"/>
<path d="M7 325.3h220" stroke="#8f8fc6" stroke-opacity="0.55" stroke-width="0.8"/>
<path d="M219.6 330.6l5 5m0 -5l-5 5" stroke="#fff" stroke-width="1.3"/>
<text x="11.2" y="337.6" font-size="13.2" fill="#fff" text-anchor="start" >RSI [14]</text>
<line x1="6.6" x2="20.6" y1="347.3" y2="347.3" stroke="#aedb62" stroke-width="1.2"/>
<text x="25.8" y="352.1" font-size="13.2" fill="#fff" text-anchor="start" >RSI</text>
<text x="226" y="352.1" font-size="12.7" fill="#fff" text-anchor="end" >43.022</text>
<text x="0.5" y="802.4" font-size="11.5" fill="#fff" text-anchor="start" font-family="'Liberation Sans', 'Noto Sans CJK JP', sans-serif">本数:</text>
<rect x="35.4" y="789.7" width="22" height="15.5" fill="#686868" stroke="#434343" stroke-width="1"/>
<text x="38.4" y="798.7" font-size="11.2" fill="#fff" text-anchor="start" textLength="17" lengthAdjust="spacingAndGlyphs">300</text>
<rect x="56.8" y="788.8" width="16" height="17" rx="1.5" fill="#151515"/>
<rect x="58.3" y="790.3" width="13" height="14" rx="0.19999999999999996" fill="url(#btn)" stroke="#3b3b3b" stroke-width="0.9"/>
<rect x="72.4" y="788.8" width="16.2" height="17" rx="1.5" fill="#151515"/>
<rect x="73.9" y="790.3" width="13.2" height="14" rx="0.19999999999999996" fill="url(#btn)" stroke="#3b3b3b" stroke-width="0.9"/>
<path d="M61 794.4h7.6l-3.8 5.2z" fill="#fff"/><path d="M76.6 799.8h7.6l-3.8-5.4z" fill="#fff"/>
<text x="94" y="802.4" font-size="11.5" fill="#fff" text-anchor="start" font-family="'Liberation Sans', 'Noto Sans CJK JP', sans-serif">本</text>
<rect x="118" y="789.7" width="76" height="15.5" fill="#686868" stroke="#434343" stroke-width="1"/>
<text x="119.8" y="802" font-size="13" fill="#ececec" text-anchor="start" textLength="69.3">2023/09/22</text>
<rect x="196.2" y="788.6" width="19.6" height="18.4" rx="3.0" fill="#151515"/>
<rect x="197.7" y="790.1" width="16.6" height="15.4" rx="1.7" fill="url(#btn)" stroke="#3b3b3b" stroke-width="0.9"/>
<rect x="225.4" y="789.7" width="41" height="15.5" fill="#686868" stroke="#434343" stroke-width="1"/>
<text x="226.8" y="802" font-size="13" fill="#ececec" text-anchor="start" textLength="30.6">08:00</text>
<text x="274.4" y="802.2" font-size="11.5" fill="#fff" text-anchor="start" font-family="'Liberation Sans', 'Noto Sans CJK JP', sans-serif">～</text>
<rect x="295.3" y="789.7" width="76" height="15.5" fill="#686868" stroke="#434343" stroke-width="1"/>
<text x="297.2" y="802" font-size="13" fill="#ececec" text-anchor="start" textLength="69.3">2023/11/27</text>
<rect x="373.2" y="788.6" width="19.6" height="18.4" rx="3.0" fill="#151515"/>
<rect x="374.7" y="790.1" width="16.6" height="15.4" rx="1.7" fill="url(#btn)" stroke="#3b3b3b" stroke-width="0.9"/>
<rect x="402.2" y="789.7" width="41" height="15.5" fill="#686868" stroke="#434343" stroke-width="1"/>
<text x="403.6" y="802" font-size="13" fill="#ececec" text-anchor="start" textLength="30.6">20:00</text>
<rect x="200.1" y="792.6" width="11.8" height="10.4" fill="#fff"/><rect x="200.1" y="792.6" width="11.8" height="2.4" fill="#c8c8c8"/>
<path d="M201.4 796.2h1.3v1.3h-1.3zM201.4 798.3h1.3v1.3h-1.3zM201.4 800.4h1.3v1.3h-1.3zM203.6 796.2h1.3v1.3h-1.3zM203.6 798.3h1.3v1.3h-1.3zM203.6 800.4h1.3v1.3h-1.3zM205.8 796.2h1.3v1.3h-1.3zM205.8 798.3h1.3v1.3h-1.3zM205.8 800.4h1.3v1.3h-1.3zM208 796.2h1.3v1.3h-1.3zM208 798.3h1.3v1.3h-1.3zM208 800.4h1.3v1.3h-1.3zM210.2 796.2h1.3v1.3h-1.3zM210.2 798.3h1.3v1.3h-1.3zM210.2 800.4h1.3v1.3h-1.3z" fill="#222"/>
<rect x="377.1" y="792.6" width="11.8" height="10.4" fill="#fff"/><rect x="377.1" y="792.6" width="11.8" height="2.4" fill="#c8c8c8"/>
<path d="M378.4 796.2h1.3v1.3h-1.3zM378.4 798.3h1.3v1.3h-1.3zM378.4 800.4h1.3v1.3h-1.3zM380.6 796.2h1.3v1.3h-1.3zM380.6 798.3h1.3v1.3h-1.3zM380.6 800.4h1.3v1.3h-1.3zM382.8 796.2h1.3v1.3h-1.3zM382.8 798.3h1.3v1.3h-1.3zM382.8 800.4h1.3v1.3h-1.3zM385 796.2h1.3v1.3h-1.3zM385 798.3h1.3v1.3h-1.3zM385 800.4h1.3v1.3h-1.3zM387.2 796.2h1.3v1.3h-1.3zM387.2 798.3h1.3v1.3h-1.3zM387.2 800.4h1.3v1.3h-1.3z" fill="#222"/>
<rect x="452.8" y="788.2" width="25.4" height="19.2" rx="3.5" fill="#151515"/>
<rect x="454.3" y="789.7" width="22.4" height="16.2" rx="2.2" fill="url(#btn)" stroke="#3b3b3b" stroke-width="0.9"/>
<path d="M459.8 794.1h8.4a3.2 3.2 0 0 1 0 6.4h-6.2" stroke="#fff" stroke-width="2.1" fill="none"/><path d="M463.8 797l-4.2 3.5 4.2 3.5z" fill="#fff"/>
</svg>
</body></html>
